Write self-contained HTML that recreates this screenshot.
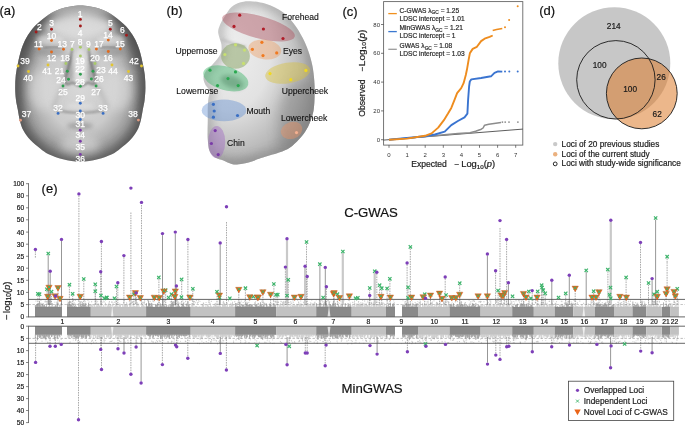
<!DOCTYPE html>
<html><head><meta charset="utf-8"><style>
html,body{margin:0;padding:0;background:#fff;}
svg{display:block;font-family:"Liberation Sans", sans-serif;will-change:transform;}
</style></head><body>
<svg width="685" height="426" viewBox="0 0 685 426">
<rect width="685" height="426" fill="#fff"/>
<g id="pa">
<text x="-0.6" y="15.2" font-size="13" fill="#111" stroke="#111" stroke-width="0.2">(a)</text>
<defs><radialGradient id="fg" cx="0.5" cy="0.52" r="0.55"><stop offset="0" stop-color="#d8d8d8"/><stop offset="0.5" stop-color="#cbcbcb"/><stop offset="0.8" stop-color="#9c9c9c"/><stop offset="1" stop-color="#585858"/></radialGradient><clipPath id="fclip"><path d="M80.30,5.60C83.50,5.60 86.12,5.88 89.90,6.60C93.68,7.32 98.90,8.27 103.00,9.90C107.10,11.53 110.67,13.67 114.50,16.40C118.33,19.13 122.72,22.73 126.00,26.30C129.28,29.87 132.00,33.97 134.20,37.80C136.40,41.63 137.82,45.20 139.20,49.30C140.58,53.40 141.57,58.12 142.50,62.40C143.43,66.68 144.32,70.73 144.80,75.00C145.28,79.27 145.43,83.83 145.40,88.00C145.37,92.17 145.02,96.48 144.60,100.00C144.18,103.52 143.53,105.70 142.90,109.10C142.27,112.50 141.73,116.88 140.80,120.40C139.87,123.92 139.07,126.92 137.30,130.20C135.53,133.48 133.02,137.05 130.20,140.10C127.38,143.15 123.45,146.15 120.40,148.50C117.35,150.85 115.70,152.42 111.90,154.20C108.10,155.98 102.87,157.97 97.60,159.20C92.33,160.43 86.07,161.60 80.30,161.60C74.53,161.60 68.27,160.43 63.00,159.20C57.73,157.97 52.50,155.98 48.70,154.20C44.90,152.42 43.25,150.85 40.20,148.50C37.15,146.15 33.22,143.15 30.40,140.10C27.58,137.05 25.07,133.48 23.30,130.20C21.53,126.92 20.73,123.92 19.80,120.40C18.87,116.88 18.33,112.50 17.70,109.10C17.07,105.70 16.42,103.52 16.00,100.00C15.58,96.48 15.23,92.17 15.20,88.00C15.17,83.83 15.32,79.27 15.80,75.00C16.28,70.73 17.17,66.68 18.10,62.40C19.03,58.12 20.02,53.40 21.40,49.30C22.78,45.20 24.20,41.63 26.40,37.80C28.60,33.97 31.32,29.87 34.60,26.30C37.88,22.73 42.27,19.13 46.10,16.40C49.93,13.67 53.50,11.53 57.60,9.90C61.70,8.27 66.92,7.32 70.70,6.60C74.48,5.88 77.10,5.60 80.30,5.60Z"/></clipPath><filter id="blur2" x="-50%" y="-50%" width="200%" height="200%"><feGaussianBlur stdDeviation="2.2"/></filter><filter id="blur1" x="-50%" y="-50%" width="200%" height="200%"><feGaussianBlur stdDeviation="1"/></filter><filter id="blur4" x="-50%" y="-50%" width="200%" height="200%"><feGaussianBlur stdDeviation="4"/></filter><filter id="blur6" x="-50%" y="-50%" width="200%" height="200%"><feGaussianBlur stdDeviation="6"/></filter></defs>
<path d="M80.30,5.60C83.50,5.60 86.12,5.88 89.90,6.60C93.68,7.32 98.90,8.27 103.00,9.90C107.10,11.53 110.67,13.67 114.50,16.40C118.33,19.13 122.72,22.73 126.00,26.30C129.28,29.87 132.00,33.97 134.20,37.80C136.40,41.63 137.82,45.20 139.20,49.30C140.58,53.40 141.57,58.12 142.50,62.40C143.43,66.68 144.32,70.73 144.80,75.00C145.28,79.27 145.43,83.83 145.40,88.00C145.37,92.17 145.02,96.48 144.60,100.00C144.18,103.52 143.53,105.70 142.90,109.10C142.27,112.50 141.73,116.88 140.80,120.40C139.87,123.92 139.07,126.92 137.30,130.20C135.53,133.48 133.02,137.05 130.20,140.10C127.38,143.15 123.45,146.15 120.40,148.50C117.35,150.85 115.70,152.42 111.90,154.20C108.10,155.98 102.87,157.97 97.60,159.20C92.33,160.43 86.07,161.60 80.30,161.60C74.53,161.60 68.27,160.43 63.00,159.20C57.73,157.97 52.50,155.98 48.70,154.20C44.90,152.42 43.25,150.85 40.20,148.50C37.15,146.15 33.22,143.15 30.40,140.10C27.58,137.05 25.07,133.48 23.30,130.20C21.53,126.92 20.73,123.92 19.80,120.40C18.87,116.88 18.33,112.50 17.70,109.10C17.07,105.70 16.42,103.52 16.00,100.00C15.58,96.48 15.23,92.17 15.20,88.00C15.17,83.83 15.32,79.27 15.80,75.00C16.28,70.73 17.17,66.68 18.10,62.40C19.03,58.12 20.02,53.40 21.40,49.30C22.78,45.20 24.20,41.63 26.40,37.80C28.60,33.97 31.32,29.87 34.60,26.30C37.88,22.73 42.27,19.13 46.10,16.40C49.93,13.67 53.50,11.53 57.60,9.90C61.70,8.27 66.92,7.32 70.70,6.60C74.48,5.88 77.10,5.60 80.30,5.60Z" fill="url(#fg)"/>
<g clip-path="url(#fclip)">
<path d="M80.30,5.60C83.50,5.60 86.12,5.88 89.90,6.60C93.68,7.32 98.90,8.27 103.00,9.90C107.10,11.53 110.67,13.67 114.50,16.40C118.33,19.13 122.72,22.73 126.00,26.30C129.28,29.87 132.00,33.97 134.20,37.80C136.40,41.63 137.82,45.20 139.20,49.30C140.58,53.40 141.57,58.12 142.50,62.40C143.43,66.68 144.32,70.73 144.80,75.00C145.28,79.27 145.43,83.83 145.40,88.00C145.37,92.17 145.02,96.48 144.60,100.00C144.18,103.52 143.53,105.70 142.90,109.10C142.27,112.50 141.73,116.88 140.80,120.40C139.87,123.92 139.07,126.92 137.30,130.20C135.53,133.48 133.02,137.05 130.20,140.10C127.38,143.15 123.45,146.15 120.40,148.50C117.35,150.85 115.70,152.42 111.90,154.20C108.10,155.98 102.87,157.97 97.60,159.20C92.33,160.43 86.07,161.60 80.30,161.60C74.53,161.60 68.27,160.43 63.00,159.20C57.73,157.97 52.50,155.98 48.70,154.20C44.90,152.42 43.25,150.85 40.20,148.50C37.15,146.15 33.22,143.15 30.40,140.10C27.58,137.05 25.07,133.48 23.30,130.20C21.53,126.92 20.73,123.92 19.80,120.40C18.87,116.88 18.33,112.50 17.70,109.10C17.07,105.70 16.42,103.52 16.00,100.00C15.58,96.48 15.23,92.17 15.20,88.00C15.17,83.83 15.32,79.27 15.80,75.00C16.28,70.73 17.17,66.68 18.10,62.40C19.03,58.12 20.02,53.40 21.40,49.30C22.78,45.20 24.20,41.63 26.40,37.80C28.60,33.97 31.32,29.87 34.60,26.30C37.88,22.73 42.27,19.13 46.10,16.40C49.93,13.67 53.50,11.53 57.60,9.90C61.70,8.27 66.92,7.32 70.70,6.60C74.48,5.88 77.10,5.60 80.30,5.60Z" fill="none" stroke="#3c3c3c" stroke-width="14" opacity="0.45" filter="url(#blur6)"/>
<ellipse cx="80" cy="8" rx="40" ry="10" fill="#d6d6d6" opacity="0.6" filter="url(#blur4)"/>
<ellipse cx="14" cy="90" rx="9" ry="35" fill="#505050" opacity="0.4" filter="url(#blur4)"/>
<ellipse cx="147" cy="90" rx="9" ry="35" fill="#505050" opacity="0.4" filter="url(#blur4)"/>
<ellipse cx="80" cy="27" rx="34" ry="13" fill="#e2e2e2" opacity="0.85" filter="url(#blur4)"/>
<ellipse cx="50" cy="40" rx="14" ry="5" fill="#e8e8e8" opacity="0.6" filter="url(#blur2)"/>
<ellipse cx="111" cy="40" rx="14" ry="5" fill="#e8e8e8" opacity="0.6" filter="url(#blur2)"/>
<ellipse cx="51" cy="52" rx="14" ry="5" fill="#7a7a7a" opacity="0.35" filter="url(#blur2)"/>
<ellipse cx="110" cy="52" rx="14" ry="5" fill="#7a7a7a" opacity="0.35" filter="url(#blur2)"/>
<ellipse cx="24" cy="45" rx="9" ry="22" fill="#4a4a4a" opacity="0.45" filter="url(#blur4)"/>
<ellipse cx="137" cy="45" rx="9" ry="22" fill="#4a4a4a" opacity="0.45" filter="url(#blur4)"/>
<ellipse cx="69" cy="70" rx="5" ry="15" fill="#7a7a7a" opacity="0.45" filter="url(#blur2)"/>
<ellipse cx="92" cy="70" rx="5" ry="15" fill="#7a7a7a" opacity="0.45" filter="url(#blur2)"/>
<ellipse cx="80.5" cy="66" rx="6" ry="18" fill="#e6e6e6" opacity="0.8" filter="url(#blur2)"/>
<path d="M72,50 C71,58 69,66 67.2,72 C66,76 64.6,80 65,83 C66.5,85.5 70,84 73,82.5 C75,84 77,86 80.3,86" stroke="#3a3a3a" stroke-width="1.3" fill="none" opacity="0.7" filter="url(#blur1)"/>
<path d="M88.6,50 C89.6,58 91.6,66 93.4,72 C94.6,76 96,80 95.6,83 C94.1,85.5 90.6,84 87.6,82.5 C85.6,84 83.6,86 80.3,86" stroke="#3a3a3a" stroke-width="1.3" fill="none" opacity="0.7" filter="url(#blur1)"/>
<path d="M44,48 Q52,45.5 61,48" stroke="#707070" stroke-width="1.4" fill="none" opacity="0.6" filter="url(#blur1)"/>
<path d="M99.6,48 Q108.6,45.5 116.6,48" stroke="#707070" stroke-width="1.4" fill="none" opacity="0.6" filter="url(#blur1)"/>
<path d="M64,86 Q56,96 53,108" stroke="#7a7a7a" stroke-width="3" fill="none" opacity="0.4" filter="url(#blur2)"/>
<path d="M96.6,86 Q104.6,96 107.6,108" stroke="#7a7a7a" stroke-width="3" fill="none" opacity="0.4" filter="url(#blur2)"/>
<ellipse cx="44" cy="90" rx="15" ry="20" fill="#dadada" opacity="0.6" filter="url(#blur4)"/>
<ellipse cx="117" cy="90" rx="15" ry="20" fill="#dadada" opacity="0.6" filter="url(#blur4)"/>
<path d="M56,110 Q80,116 105,110" stroke="#6a6a6a" stroke-width="2" fill="none" opacity="0.55" filter="url(#blur1)"/>
<ellipse cx="80" cy="106" rx="14" ry="3" fill="#e6e6e6" opacity="0.55" filter="url(#blur2)"/>
<ellipse cx="80" cy="126" rx="13" ry="3.5" fill="#7e7e7e" opacity="0.5" filter="url(#blur2)"/>
<ellipse cx="80" cy="145" rx="20" ry="9" fill="#dcdcdc" opacity="0.55" filter="url(#blur4)"/>
</g>
<circle cx="80.4" cy="19.4" r="1.45" fill="#a11c1c"/>
<circle cx="80.4" cy="26.0" r="1.45" fill="#a11c1c"/>
<circle cx="36.1" cy="32.0" r="1.45" fill="#a11c1c"/>
<circle cx="51.5" cy="29.3" r="1.45" fill="#a11c1c"/>
<circle cx="110.3" cy="29.3" r="1.45" fill="#a11c1c"/>
<circle cx="126.5" cy="35.3" r="1.45" fill="#a11c1c"/>
<circle cx="51.5" cy="40.5" r="1.45" fill="#e06a1e"/>
<circle cx="108.3" cy="40.1" r="1.45" fill="#e06a1e"/>
<circle cx="39.1" cy="49.0" r="1.45" fill="#e06a1e"/>
<circle cx="63.5" cy="49.3" r="1.45" fill="#e06a1e"/>
<circle cx="51.5" cy="52.0" r="1.45" fill="#e06a1e"/>
<circle cx="120.3" cy="49.0" r="1.45" fill="#e06a1e"/>
<circle cx="96.4" cy="49.0" r="1.45" fill="#e06a1e"/>
<circle cx="108.3" cy="51.5" r="1.45" fill="#e06a1e"/>
<circle cx="72.0" cy="49.5" r="1.45" fill="#a9c96a"/>
<circle cx="80.4" cy="47.3" r="1.45" fill="#a9c96a"/>
<circle cx="89.0" cy="49.5" r="1.45" fill="#a9c96a"/>
<circle cx="65.9" cy="63.5" r="1.45" fill="#a9c96a"/>
<circle cx="80.4" cy="56.0" r="1.45" fill="#a9c96a"/>
<circle cx="95.0" cy="63.5" r="1.45" fill="#a9c96a"/>
<circle cx="18.0" cy="66.0" r="1.45" fill="#e2c531"/>
<circle cx="28.5" cy="71.5" r="1.45" fill="#e2c531"/>
<circle cx="48.0" cy="65.0" r="1.45" fill="#e2c531"/>
<circle cx="141.5" cy="66.0" r="1.45" fill="#e2c531"/>
<circle cx="128.5" cy="71.5" r="1.45" fill="#e2c531"/>
<circle cx="112.0" cy="65.0" r="1.45" fill="#e2c531"/>
<circle cx="67.3" cy="71.3" r="1.45" fill="#2f9e4f"/>
<circle cx="80.4" cy="74.3" r="1.45" fill="#2f9e4f"/>
<circle cx="93.0" cy="71.3" r="1.45" fill="#2f9e4f"/>
<circle cx="68.5" cy="79.3" r="1.45" fill="#2f9e4f"/>
<circle cx="91.4" cy="79.0" r="1.45" fill="#2f9e4f"/>
<circle cx="80.3" cy="86.3" r="1.45" fill="#2f9e4f"/>
<circle cx="63.0" cy="86.0" r="1.45" fill="#2f9e4f"/>
<circle cx="96.1" cy="86.0" r="1.45" fill="#2f9e4f"/>
<circle cx="80.3" cy="103.3" r="1.45" fill="#3a6fc4"/>
<circle cx="80.3" cy="111.0" r="1.45" fill="#3a6fc4"/>
<circle cx="80.3" cy="119.5" r="1.45" fill="#3a6fc4"/>
<circle cx="58.1" cy="113.4" r="1.45" fill="#3a6fc4"/>
<circle cx="103.1" cy="113.4" r="1.45" fill="#3a6fc4"/>
<circle cx="80.3" cy="130.3" r="1.45" fill="#7a3aa8"/>
<circle cx="80.3" cy="141.3" r="1.45" fill="#7a3aa8"/>
<circle cx="80.3" cy="154.4" r="1.45" fill="#7a3aa8"/>
<circle cx="20.5" cy="120.2" r="1.45" fill="#e09a80"/>
<circle cx="138.4" cy="120.1" r="1.45" fill="#e09a80"/>
<text x="80.0" y="14.0" font-size="8.5" fill="#fff" stroke="#fff" stroke-width="0.25" text-anchor="middle" dominant-baseline="central">1</text>
<text x="80.0" y="32.5" font-size="8.5" fill="#fff" stroke="#fff" stroke-width="0.25" text-anchor="middle" dominant-baseline="central">4</text>
<text x="39.3" y="27.0" font-size="8.5" fill="#fff" stroke="#fff" stroke-width="0.25" text-anchor="middle" dominant-baseline="central">2</text>
<text x="51.5" y="23.0" font-size="8.5" fill="#fff" stroke="#fff" stroke-width="0.25" text-anchor="middle" dominant-baseline="central">3</text>
<text x="110.3" y="23.0" font-size="8.5" fill="#fff" stroke="#fff" stroke-width="0.25" text-anchor="middle" dominant-baseline="central">5</text>
<text x="122.3" y="30.0" font-size="8.5" fill="#fff" stroke="#fff" stroke-width="0.25" text-anchor="middle" dominant-baseline="central">6</text>
<text x="51.5" y="36.0" font-size="8.5" fill="#fff" stroke="#fff" stroke-width="0.25" text-anchor="middle" dominant-baseline="central">10</text>
<text x="108.0" y="35.3" font-size="8.5" fill="#fff" stroke="#fff" stroke-width="0.25" text-anchor="middle" dominant-baseline="central">14</text>
<text x="38.5" y="44.0" font-size="8.5" fill="#fff" stroke="#fff" stroke-width="0.25" text-anchor="middle" dominant-baseline="central">11</text>
<text x="62.3" y="44.0" font-size="8.5" fill="#fff" stroke="#fff" stroke-width="0.25" text-anchor="middle" dominant-baseline="central">13</text>
<text x="51.5" y="58.0" font-size="8.5" fill="#fff" stroke="#fff" stroke-width="0.25" text-anchor="middle" dominant-baseline="central">12</text>
<text x="120.0" y="43.5" font-size="8.5" fill="#fff" stroke="#fff" stroke-width="0.25" text-anchor="middle" dominant-baseline="central">15</text>
<text x="99.0" y="43.5" font-size="8.5" fill="#fff" stroke="#fff" stroke-width="0.25" text-anchor="middle" dominant-baseline="central">17</text>
<text x="108.0" y="57.5" font-size="8.5" fill="#fff" stroke="#fff" stroke-width="0.25" text-anchor="middle" dominant-baseline="central">16</text>
<text x="72.4" y="44.0" font-size="8.5" fill="#fff" stroke="#fff" stroke-width="0.25" text-anchor="middle" dominant-baseline="central">7</text>
<text x="80.0" y="42.0" font-size="8.5" fill="#fff" stroke="#fff" stroke-width="0.25" text-anchor="middle" dominant-baseline="central">8</text>
<text x="88.4" y="43.5" font-size="8.5" fill="#fff" stroke="#fff" stroke-width="0.25" text-anchor="middle" dominant-baseline="central">9</text>
<text x="64.9" y="58.0" font-size="8.5" fill="#fff" stroke="#fff" stroke-width="0.25" text-anchor="middle" dominant-baseline="central">18</text>
<text x="80.0" y="61.0" font-size="8.5" fill="#fff" stroke="#fff" stroke-width="0.25" text-anchor="middle" dominant-baseline="central">19</text>
<text x="95.0" y="58.0" font-size="8.5" fill="#fff" stroke="#fff" stroke-width="0.25" text-anchor="middle" dominant-baseline="central">20</text>
<text x="25.0" y="61.0" font-size="8.5" fill="#fff" stroke="#fff" stroke-width="0.25" text-anchor="middle" dominant-baseline="central">39</text>
<text x="28.0" y="78.0" font-size="8.5" fill="#fff" stroke="#fff" stroke-width="0.25" text-anchor="middle" dominant-baseline="central">40</text>
<text x="47.0" y="71.0" font-size="8.5" fill="#fff" stroke="#fff" stroke-width="0.25" text-anchor="middle" dominant-baseline="central">41</text>
<text x="133.9" y="61.0" font-size="8.5" fill="#fff" stroke="#fff" stroke-width="0.25" text-anchor="middle" dominant-baseline="central">42</text>
<text x="128.5" y="78.0" font-size="8.5" fill="#fff" stroke="#fff" stroke-width="0.25" text-anchor="middle" dominant-baseline="central">43</text>
<text x="113.0" y="71.0" font-size="8.5" fill="#fff" stroke="#fff" stroke-width="0.25" text-anchor="middle" dominant-baseline="central">44</text>
<text x="59.5" y="71.0" font-size="8.5" fill="#fff" stroke="#fff" stroke-width="0.25" text-anchor="middle" dominant-baseline="central">21</text>
<text x="80.0" y="69.0" font-size="8.5" fill="#fff" stroke="#fff" stroke-width="0.25" text-anchor="middle" dominant-baseline="central">22</text>
<text x="101.0" y="70.0" font-size="8.5" fill="#fff" stroke="#fff" stroke-width="0.25" text-anchor="middle" dominant-baseline="central">23</text>
<text x="61.0" y="79.5" font-size="8.5" fill="#fff" stroke="#fff" stroke-width="0.25" text-anchor="middle" dominant-baseline="central">24</text>
<text x="99.0" y="79.0" font-size="8.5" fill="#fff" stroke="#fff" stroke-width="0.25" text-anchor="middle" dominant-baseline="central">26</text>
<text x="80.0" y="82.0" font-size="8.5" fill="#fff" stroke="#fff" stroke-width="0.25" text-anchor="middle" dominant-baseline="central">28</text>
<text x="63.0" y="91.6" font-size="8.5" fill="#fff" stroke="#fff" stroke-width="0.25" text-anchor="middle" dominant-baseline="central">25</text>
<text x="96.1" y="91.6" font-size="8.5" fill="#fff" stroke="#fff" stroke-width="0.25" text-anchor="middle" dominant-baseline="central">27</text>
<text x="80.3" y="98.0" font-size="8.5" fill="#fff" stroke="#fff" stroke-width="0.25" text-anchor="middle" dominant-baseline="central">29</text>
<text x="80.3" y="115.0" font-size="8.5" fill="#fff" stroke="#fff" stroke-width="0.25" text-anchor="middle" dominant-baseline="central">30</text>
<text x="58.1" y="107.5" font-size="8.5" fill="#fff" stroke="#fff" stroke-width="0.25" text-anchor="middle" dominant-baseline="central">32</text>
<text x="103.1" y="107.5" font-size="8.5" fill="#fff" stroke="#fff" stroke-width="0.25" text-anchor="middle" dominant-baseline="central">33</text>
<text x="80.3" y="124.4" font-size="8.5" fill="#fff" stroke="#fff" stroke-width="0.25" text-anchor="middle" dominant-baseline="central">31</text>
<text x="80.3" y="135.4" font-size="8.5" fill="#fff" stroke="#fff" stroke-width="0.25" text-anchor="middle" dominant-baseline="central">34</text>
<text x="80.3" y="146.6" font-size="8.5" fill="#fff" stroke="#fff" stroke-width="0.25" text-anchor="middle" dominant-baseline="central">35</text>
<text x="80.3" y="159.3" font-size="8.5" fill="#fff" stroke="#fff" stroke-width="0.25" text-anchor="middle" dominant-baseline="central">36</text>
<text x="26.4" y="113.8" font-size="8.5" fill="#fff" stroke="#fff" stroke-width="0.25" text-anchor="middle" dominant-baseline="central">37</text>
<text x="133.1" y="113.8" font-size="8.5" fill="#fff" stroke="#fff" stroke-width="0.25" text-anchor="middle" dominant-baseline="central">38</text>
</g>
<g id="pb">
<text x="166.6" y="15.2" font-size="13" fill="#111" stroke="#111" stroke-width="0.2">(b)</text>
<defs><radialGradient id="sg" cx="0.25" cy="0.3" r="0.9"><stop offset="0" stop-color="#eeeeee"/><stop offset="0.4" stop-color="#e2e2e2"/><stop offset="0.72" stop-color="#b8b8b8"/><stop offset="1" stop-color="#7c7c7c"/></radialGradient><clipPath id="sclip"><path d="M250.00,1.30C254.40,1.55 260.92,2.27 266.40,4.10C271.88,5.93 278.23,8.88 282.90,12.30C287.57,15.72 291.12,20.35 294.40,24.60C297.68,28.85 300.28,33.40 302.60,37.80C304.92,42.20 306.67,46.35 308.30,51.00C309.93,55.65 311.40,60.75 312.40,65.70C313.40,70.65 313.93,75.82 314.30,80.70C314.67,85.58 314.72,90.13 314.60,95.00C314.48,99.87 314.32,105.50 313.60,109.90C312.88,114.30 311.67,117.83 310.30,121.40C308.93,124.97 307.32,128.28 305.40,131.30C303.48,134.32 301.42,136.77 298.80,139.50C296.18,142.23 293.00,145.53 289.70,147.70C286.40,149.87 283.78,150.77 279.00,152.50C274.22,154.23 265.95,156.48 261.00,158.10C256.05,159.72 253.02,161.17 249.30,162.20C245.58,163.23 241.63,164.00 238.70,164.30C235.77,164.60 234.23,164.63 231.70,164.00C229.17,163.37 226.25,161.58 223.50,160.50C220.75,159.42 217.53,159.08 215.20,157.50C212.87,155.92 210.73,153.92 209.50,151.00C208.27,148.08 208.12,143.22 207.80,140.00C207.48,136.78 207.60,135.03 207.60,131.70C207.60,128.37 207.77,123.95 207.80,120.00C207.83,116.05 207.68,111.67 207.80,108.00C207.92,104.33 208.13,100.83 208.50,98.00C208.87,95.17 210.50,93.17 210.00,91.00C209.50,88.83 206.58,87.17 205.50,85.00C204.42,82.83 203.42,80.33 203.50,78.00C203.58,75.67 204.42,73.33 206.00,71.00C207.58,68.67 210.58,66.83 213.00,64.00C215.42,61.17 219.08,57.17 220.50,54.00C221.92,50.83 221.72,47.83 221.50,45.00C221.28,42.17 219.75,39.33 219.20,37.00C218.65,34.67 218.00,33.17 218.20,31.00C218.40,28.83 219.22,26.58 220.40,24.00C221.58,21.42 223.43,18.33 225.30,15.50C227.17,12.67 229.15,9.15 231.60,7.00C234.05,4.85 236.93,3.55 240.00,2.60C243.07,1.65 245.60,1.05 250.00,1.30Z"/></clipPath></defs>
<path d="M250.00,1.30C254.40,1.55 260.92,2.27 266.40,4.10C271.88,5.93 278.23,8.88 282.90,12.30C287.57,15.72 291.12,20.35 294.40,24.60C297.68,28.85 300.28,33.40 302.60,37.80C304.92,42.20 306.67,46.35 308.30,51.00C309.93,55.65 311.40,60.75 312.40,65.70C313.40,70.65 313.93,75.82 314.30,80.70C314.67,85.58 314.72,90.13 314.60,95.00C314.48,99.87 314.32,105.50 313.60,109.90C312.88,114.30 311.67,117.83 310.30,121.40C308.93,124.97 307.32,128.28 305.40,131.30C303.48,134.32 301.42,136.77 298.80,139.50C296.18,142.23 293.00,145.53 289.70,147.70C286.40,149.87 283.78,150.77 279.00,152.50C274.22,154.23 265.95,156.48 261.00,158.10C256.05,159.72 253.02,161.17 249.30,162.20C245.58,163.23 241.63,164.00 238.70,164.30C235.77,164.60 234.23,164.63 231.70,164.00C229.17,163.37 226.25,161.58 223.50,160.50C220.75,159.42 217.53,159.08 215.20,157.50C212.87,155.92 210.73,153.92 209.50,151.00C208.27,148.08 208.12,143.22 207.80,140.00C207.48,136.78 207.60,135.03 207.60,131.70C207.60,128.37 207.77,123.95 207.80,120.00C207.83,116.05 207.68,111.67 207.80,108.00C207.92,104.33 208.13,100.83 208.50,98.00C208.87,95.17 210.50,93.17 210.00,91.00C209.50,88.83 206.58,87.17 205.50,85.00C204.42,82.83 203.42,80.33 203.50,78.00C203.58,75.67 204.42,73.33 206.00,71.00C207.58,68.67 210.58,66.83 213.00,64.00C215.42,61.17 219.08,57.17 220.50,54.00C221.92,50.83 221.72,47.83 221.50,45.00C221.28,42.17 219.75,39.33 219.20,37.00C218.65,34.67 218.00,33.17 218.20,31.00C218.40,28.83 219.22,26.58 220.40,24.00C221.58,21.42 223.43,18.33 225.30,15.50C227.17,12.67 229.15,9.15 231.60,7.00C234.05,4.85 236.93,3.55 240.00,2.60C243.07,1.65 245.60,1.05 250.00,1.30Z" fill="url(#sg)"/>
<g clip-path="url(#sclip)">
<path d="M250.00,1.30C254.40,1.55 260.92,2.27 266.40,4.10C271.88,5.93 278.23,8.88 282.90,12.30C287.57,15.72 291.12,20.35 294.40,24.60C297.68,28.85 300.28,33.40 302.60,37.80C304.92,42.20 306.67,46.35 308.30,51.00C309.93,55.65 311.40,60.75 312.40,65.70C313.40,70.65 313.93,75.82 314.30,80.70C314.67,85.58 314.72,90.13 314.60,95.00C314.48,99.87 314.32,105.50 313.60,109.90C312.88,114.30 311.67,117.83 310.30,121.40C308.93,124.97 307.32,128.28 305.40,131.30C303.48,134.32 301.42,136.77 298.80,139.50C296.18,142.23 293.00,145.53 289.70,147.70C286.40,149.87 283.78,150.77 279.00,152.50C274.22,154.23 265.95,156.48 261.00,158.10C256.05,159.72 253.02,161.17 249.30,162.20C245.58,163.23 241.63,164.00 238.70,164.30C235.77,164.60 234.23,164.63 231.70,164.00C229.17,163.37 226.25,161.58 223.50,160.50C220.75,159.42 217.53,159.08 215.20,157.50C212.87,155.92 210.73,153.92 209.50,151.00C208.27,148.08 208.12,143.22 207.80,140.00C207.48,136.78 207.60,135.03 207.60,131.70C207.60,128.37 207.77,123.95 207.80,120.00C207.83,116.05 207.68,111.67 207.80,108.00C207.92,104.33 208.13,100.83 208.50,98.00C208.87,95.17 210.50,93.17 210.00,91.00C209.50,88.83 206.58,87.17 205.50,85.00C204.42,82.83 203.42,80.33 203.50,78.00C203.58,75.67 204.42,73.33 206.00,71.00C207.58,68.67 210.58,66.83 213.00,64.00C215.42,61.17 219.08,57.17 220.50,54.00C221.92,50.83 221.72,47.83 221.50,45.00C221.28,42.17 219.75,39.33 219.20,37.00C218.65,34.67 218.00,33.17 218.20,31.00C218.40,28.83 219.22,26.58 220.40,24.00C221.58,21.42 223.43,18.33 225.30,15.50C227.17,12.67 229.15,9.15 231.60,7.00C234.05,4.85 236.93,3.55 240.00,2.60C243.07,1.65 245.60,1.05 250.00,1.30Z" fill="none" stroke="#8a8a8a" stroke-width="10" opacity="0.45" filter="url(#blur4)"/>
<ellipse cx="302" cy="125" rx="24" ry="45" fill="#808080" opacity="0.45" filter="url(#blur6)"/>
<ellipse cx="262" cy="165" rx="45" ry="9" fill="#8c8c8c" opacity="0.4" filter="url(#blur4)"/>
<path d="M221,39 Q232,44 246,47" stroke="#b8b8b8" stroke-width="3" fill="none" opacity="0.6" filter="url(#blur1)"/>
</g>
<ellipse cx="232" cy="82" rx="12" ry="6" transform="rotate(20 232 82)" fill="#3a3a3a" opacity="0.35" filter="url(#blur2)"/>
<ellipse cx="258.5" cy="27.0" rx="37.5" ry="11.2" transform="rotate(15.0 258.5 27.0)" fill="#a84050" fill-opacity="0.40"/>
<ellipse cx="264.8" cy="49.5" rx="16.5" ry="9.8" transform="rotate(8.0 264.8 49.5)" fill="#f08a3c" fill-opacity="0.33"/>
<ellipse cx="235.5" cy="56.0" rx="14.4" ry="12.7" transform="rotate(0.0 235.5 56.0)" fill="#7a9a50" fill-opacity="0.45"/>
<ellipse cx="287.7" cy="73.0" rx="22.7" ry="10.3" transform="rotate(-9.0 287.7 73.0)" fill="#d8c040" fill-opacity="0.45"/>
<ellipse cx="225.8" cy="78.4" rx="23.3" ry="11.8" transform="rotate(16.0 225.8 78.4)" fill="#30b060" fill-opacity="0.42"/>
<ellipse cx="224.0" cy="110.4" rx="22.3" ry="10.8" transform="rotate(0.0 224.0 110.4)" fill="#5a8ad0" fill-opacity="0.40"/>
<ellipse cx="291.6" cy="130.4" rx="11.0" ry="8.4" transform="rotate(-18.0 291.6 130.4)" fill="#f09060" fill-opacity="0.40"/>
<ellipse cx="216.7" cy="142.0" rx="8.5" ry="16.1" transform="rotate(0.0 216.7 142.0)" fill="#9a60c0" fill-opacity="0.40"/>
<circle cx="239.7" cy="15.2" r="1.6" fill="#b01c28"/>
<circle cx="234.0" cy="26.4" r="1.6" fill="#b01c28"/>
<circle cx="263.4" cy="29.0" r="1.6" fill="#b01c28"/>
<circle cx="283.0" cy="38.5" r="1.6" fill="#b01c28"/>
<circle cx="261.9" cy="42.3" r="1.6" fill="#f07a20"/>
<circle cx="252.4" cy="49.3" r="1.6" fill="#f07a20"/>
<circle cx="263.0" cy="55.6" r="1.6" fill="#f07a20"/>
<circle cx="276.7" cy="52.9" r="1.6" fill="#f07a20"/>
<circle cx="235.5" cy="44.8" r="1.6" fill="#c8e070"/>
<circle cx="244.5" cy="50.1" r="1.6" fill="#c8e070"/>
<circle cx="224.9" cy="54.5" r="1.6" fill="#c8e070"/>
<circle cx="243.5" cy="63.4" r="1.6" fill="#c8e070"/>
<circle cx="270.0" cy="73.6" r="1.6" fill="#f0d820"/>
<circle cx="305.9" cy="70.4" r="1.6" fill="#f0d820"/>
<circle cx="290.8" cy="79.7" r="1.6" fill="#f0d820"/>
<circle cx="210.0" cy="70.2" r="1.6" fill="#2aa850"/>
<circle cx="235.5" cy="71.9" r="1.6" fill="#2aa850"/>
<circle cx="228.0" cy="78.6" r="1.6" fill="#2aa850"/>
<circle cx="217.5" cy="85.6" r="1.6" fill="#2aa850"/>
<circle cx="238.2" cy="85.6" r="1.6" fill="#2aa850"/>
<circle cx="213.4" cy="104.3" r="1.6" fill="#3a6fc4"/>
<circle cx="214.2" cy="111.0" r="1.6" fill="#3a6fc4"/>
<circle cx="213.4" cy="117.2" r="1.6" fill="#3a6fc4"/>
<circle cx="237.5" cy="115.5" r="1.6" fill="#3a6fc4"/>
<circle cx="296.5" cy="132.6" r="1.6" fill="#f4b090"/>
<circle cx="215.2" cy="130.6" r="1.6" fill="#7a3aa8"/>
<circle cx="211.4" cy="143.5" r="1.6" fill="#7a3aa8"/>
<circle cx="218.2" cy="154.6" r="1.6" fill="#7a3aa8"/>
<text x="282.0" y="16.5" font-size="8.6" fill="#111" stroke="#111" stroke-width="0.12" text-anchor="start" dominant-baseline="central">Forehead</text>
<text x="283.0" y="50.7" font-size="8.6" fill="#111" stroke="#111" stroke-width="0.12" text-anchor="start" dominant-baseline="central">Eyes</text>
<text x="217.5" y="50.7" font-size="8.6" fill="#111" stroke="#111" stroke-width="0.12" text-anchor="end" dominant-baseline="central">Uppernose</text>
<text x="281.7" y="91.2" font-size="8.6" fill="#111" stroke="#111" stroke-width="0.12" text-anchor="start" dominant-baseline="central">Uppercheek</text>
<text x="218.4" y="91.2" font-size="8.6" fill="#111" stroke="#111" stroke-width="0.12" text-anchor="end" dominant-baseline="central">Lowernose</text>
<text x="246.4" y="111.0" font-size="8.6" fill="#111" stroke="#111" stroke-width="0.12" text-anchor="start" dominant-baseline="central">Mouth</text>
<text x="281.0" y="117.7" font-size="8.6" fill="#111" stroke="#111" stroke-width="0.12" text-anchor="start" dominant-baseline="central">Lowercheek</text>
<text x="227.0" y="142.8" font-size="8.6" fill="#111" stroke="#111" stroke-width="0.12" text-anchor="start" dominant-baseline="central">Chin</text>
</g>
<g id="pc">
<text x="342.4" y="15.6" font-size="13" fill="#111" stroke="#111" stroke-width="0.2">(c)</text>
<rect x="383.6" y="1.6" width="139.2" height="143.5" fill="none" stroke="#666" stroke-width="0.9"/>
<line x1="389.0" y1="145.1" x2="389.0" y2="147.8" stroke="#444" stroke-width="0.7"/>
<text x="389.0" y="155" font-size="6" fill="#333" text-anchor="middle" dominant-baseline="central">0</text>
<line x1="407.1" y1="145.1" x2="407.1" y2="147.8" stroke="#444" stroke-width="0.7"/>
<text x="407.1" y="155" font-size="6" fill="#333" text-anchor="middle" dominant-baseline="central">1</text>
<line x1="425.2" y1="145.1" x2="425.2" y2="147.8" stroke="#444" stroke-width="0.7"/>
<text x="425.2" y="155" font-size="6" fill="#333" text-anchor="middle" dominant-baseline="central">2</text>
<line x1="443.3" y1="145.1" x2="443.3" y2="147.8" stroke="#444" stroke-width="0.7"/>
<text x="443.3" y="155" font-size="6" fill="#333" text-anchor="middle" dominant-baseline="central">3</text>
<line x1="461.4" y1="145.1" x2="461.4" y2="147.8" stroke="#444" stroke-width="0.7"/>
<text x="461.4" y="155" font-size="6" fill="#333" text-anchor="middle" dominant-baseline="central">4</text>
<line x1="479.5" y1="145.1" x2="479.5" y2="147.8" stroke="#444" stroke-width="0.7"/>
<text x="479.5" y="155" font-size="6" fill="#333" text-anchor="middle" dominant-baseline="central">5</text>
<line x1="497.6" y1="145.1" x2="497.6" y2="147.8" stroke="#444" stroke-width="0.7"/>
<text x="497.6" y="155" font-size="6" fill="#333" text-anchor="middle" dominant-baseline="central">6</text>
<line x1="515.7" y1="145.1" x2="515.7" y2="147.8" stroke="#444" stroke-width="0.7"/>
<text x="515.7" y="155" font-size="6" fill="#333" text-anchor="middle" dominant-baseline="central">7</text>
<line x1="381" y1="139.7" x2="383.6" y2="139.7" stroke="#444" stroke-width="0.7"/>
<text x="380" y="139.7" font-size="6" fill="#333" text-anchor="end" dominant-baseline="central">0</text>
<line x1="381" y1="110.9" x2="383.6" y2="110.9" stroke="#444" stroke-width="0.7"/>
<text x="380" y="110.9" font-size="6" fill="#333" text-anchor="end" dominant-baseline="central">20</text>
<line x1="381" y1="82.1" x2="383.6" y2="82.1" stroke="#444" stroke-width="0.7"/>
<text x="380" y="82.1" font-size="6" fill="#333" text-anchor="end" dominant-baseline="central">40</text>
<line x1="381" y1="53.3" x2="383.6" y2="53.3" stroke="#444" stroke-width="0.7"/>
<text x="380" y="53.3" font-size="6" fill="#333" text-anchor="end" dominant-baseline="central">60</text>
<line x1="381" y1="24.5" x2="383.6" y2="24.5" stroke="#444" stroke-width="0.7"/>
<text x="380" y="24.5" font-size="6" fill="#333" text-anchor="end" dominant-baseline="central">80</text>
<g transform="translate(365,116.8) rotate(-90)"><text x="0" y="0" font-size="8.4" fill="#222" textLength="37.4" lengthAdjust="spacingAndGlyphs" stroke="#222" stroke-width="0.2">Observed</text><text x="45.6" y="0" font-size="8.4" fill="#222" stroke="#222" stroke-width="0.2">&#8722;</text><text x="50.6" y="0" font-size="8.4" fill="#222" textLength="36.7" lengthAdjust="spacingAndGlyphs" stroke="#222" stroke-width="0.2">Log<tspan font-size="5.6" dy="1.4">10</tspan><tspan dy="-1.4">(</tspan><tspan font-style="italic">p</tspan>)</text></g>
<text x="411.2" y="167.2" font-size="8.4" fill="#222" textLength="35.7" lengthAdjust="spacingAndGlyphs" stroke="#222" stroke-width="0.2">Expected</text><text x="454.6" y="167.2" font-size="8.4" fill="#222" stroke="#222" stroke-width="0.2">&#8722;</text><text x="461.2" y="167.2" font-size="8.4" fill="#222" textLength="34" lengthAdjust="spacingAndGlyphs" stroke="#222" stroke-width="0.2">Log<tspan font-size="5.6" dy="1.4">10</tspan><tspan dy="-1.4">(</tspan><tspan font-style="italic">p</tspan>)</text>
<line x1="383.6" y1="140.1" x2="522.8" y2="129.1" stroke="#333" stroke-width="0.8"/>
<polyline points="389.0,139.8 425.0,136.6 457.9,133.4 470.0,132.7 475.6,131.3 481.3,129.2 483.1,128.0 484.6,125.2 488.8,124.2 501.0,122.4" fill="none" stroke="#8c8c8c" stroke-width="1.5" stroke-linejoin="round"/>
<circle cx="502.4" cy="122.1" r="0.9" fill="#8c8c8c"/>
<circle cx="505.2" cy="122.1" r="0.9" fill="#8c8c8c"/>
<circle cx="509.0" cy="122.1" r="0.9" fill="#8c8c8c"/>
<circle cx="517.9" cy="122.1" r="0.9" fill="#8c8c8c"/>
<polyline points="389.0,139.8 425.0,136.2 434.9,134.5 444.7,131.7 451.3,125.1 457.9,121.0 464.5,117.4 467.4,113.6 468.1,99.7 469.1,86.5 469.8,81.5 471.3,79.4 481.1,78.0 491.0,76.3 494.5,72.8 498.0,71.4 502.3,71.6" fill="none" stroke="#3a74d0" stroke-width="1.9" stroke-linejoin="round"/>
<circle cx="505.0" cy="71.4" r="1" fill="#3a74d0"/>
<circle cx="509.3" cy="71.4" r="1" fill="#3a74d0"/>
<circle cx="517.7" cy="71.4" r="1" fill="#3a74d0"/>
<polyline points="389.0,139.8 407.0,138.6 425.0,135.8 431.6,133.4 438.2,127.6 443.9,120.2 448.0,113.6 451.3,107.9 454.6,99.7 457.1,93.1 461.2,88.2 463.6,83.2 465.8,75.0 467.0,69.3 468.7,59.4 469.9,53.1 472.7,48.9 476.9,46.8 481.1,41.1 484.6,38.7 489.6,36.9 492.7,35.5" fill="none" stroke="#ee8c1e" stroke-width="1.9" stroke-linejoin="round"/>
<polyline points="492.7,30.6 496.6,29.6 502.3,28.5" fill="none" stroke="#ee8c1e" stroke-width="1.5"/>
<circle cx="505.0" cy="27.3" r="1" fill="#ee8c1e"/>
<circle cx="509.1" cy="20.1" r="1" fill="#ee8c1e"/>
<circle cx="517.7" cy="6.3" r="1" fill="#ee8c1e"/>
<line x1="388.3" y1="13.6" x2="396.8" y2="13.6" stroke="#f0901e" stroke-width="1.3"/>
<line x1="388.3" y1="31.6" x2="396.8" y2="31.6" stroke="#3b78d0" stroke-width="1.3"/>
<line x1="388.3" y1="49.3" x2="396.8" y2="49.3" stroke="#9a9a9a" stroke-width="1.3"/>
<text x="399.6" y="12.9" font-size="6.6" fill="#2a2a2a" stroke="#2a2a2a" stroke-width="0.2">C-GWAS &#955;<tspan font-size="4.8" dy="1.5">GC</tspan><tspan dy="-1.5"> = </tspan>1.25</text>
<text x="399.6" y="21.1" font-size="6.6" fill="#2a2a2a" stroke="#2a2a2a" stroke-width="0.2">LDSC intercept = 1.01</text>
<text x="399.6" y="30.3" font-size="6.6" fill="#2a2a2a" stroke="#2a2a2a" stroke-width="0.2">MinGWAS &#955;<tspan font-size="4.8" dy="1.5">GC</tspan><tspan dy="-1.5"> = </tspan>1.21</text>
<text x="399.6" y="38.4" font-size="6.6" fill="#2a2a2a" stroke="#2a2a2a" stroke-width="0.2">LDSC intercept = 1</text>
<text x="399.6" y="48.0" font-size="6.6" fill="#2a2a2a" stroke="#2a2a2a" stroke-width="0.2">GWAS &#955;<tspan font-size="4.8" dy="1.5">GC</tspan><tspan dy="-1.5"> = </tspan>1.08</text>
<text x="399.6" y="55.9" font-size="6.6" fill="#2a2a2a" stroke="#2a2a2a" stroke-width="0.2">LDSC intercept = 1.03</text>
</g>
<g id="pd">
<text x="539.2" y="15.2" font-size="13" fill="#111" stroke="#111" stroke-width="0.2">(d)</text>
<circle cx="614.3" cy="63.3" r="56" fill="#c7c7c7"/>
<circle cx="641.8" cy="93.4" r="35.4" fill="#dd7f30" fill-opacity="0.56"/>
<circle cx="641.8" cy="93.4" r="35.4" fill="none" stroke="#1a1a1a" stroke-width="0.9"/>
<circle cx="615.9" cy="79.8" r="39.2" fill="none" stroke="#1a1a1a" stroke-width="0.9"/>
<text x="613.7" y="25.6" font-size="9" fill="#1a1a1a" text-anchor="middle" dominant-baseline="central" textLength="13.8" lengthAdjust="spacingAndGlyphs" stroke="#1a1a1a" stroke-width="0.2">214</text>
<text x="599.6" y="65.0" font-size="9" fill="#1a1a1a" text-anchor="middle" dominant-baseline="central" textLength="13.8" lengthAdjust="spacingAndGlyphs" stroke="#1a1a1a" stroke-width="0.2">100</text>
<text x="661.2" y="77.2" font-size="9" fill="#1a1a1a" text-anchor="middle" dominant-baseline="central" textLength="9.2" lengthAdjust="spacingAndGlyphs" stroke="#1a1a1a" stroke-width="0.2">26</text>
<text x="630.1" y="89.1" font-size="9" fill="#1a1a1a" text-anchor="middle" dominant-baseline="central" textLength="13.8" lengthAdjust="spacingAndGlyphs" stroke="#1a1a1a" stroke-width="0.2">100</text>
<text x="657.2" y="113.5" font-size="9" fill="#1a1a1a" text-anchor="middle" dominant-baseline="central" textLength="9.2" lengthAdjust="spacingAndGlyphs" stroke="#1a1a1a" stroke-width="0.2">62</text>
<circle cx="555.2" cy="144.1" r="2.2" fill="#c9c9c9"/>
<circle cx="555.2" cy="154.3" r="2.2" fill="#ebb17f"/>
<circle cx="555.2" cy="163.9" r="1.9" fill="none" stroke="#111" stroke-width="0.9"/>
<text x="561.6" y="144.1" font-size="8.25" fill="#222" dominant-baseline="central" stroke="#222" stroke-width="0.2">Loci of 20 previous studies</text>
<text x="561.6" y="154.3" font-size="8.25" fill="#222" dominant-baseline="central" stroke="#222" stroke-width="0.2">Loci of the current study</text>
<text x="561.6" y="163.9" font-size="8.25" fill="#222" dominant-baseline="central" stroke="#222" stroke-width="0.2">Loci with study-wide significance</text>
</g>
<rect x="35.0" y="307" width="55.8" height="9.9" fill="#8a8a8a"/>
<rect x="35.0" y="326.2" width="55.8" height="8.5" fill="#8a8a8a"/>
<path d="M35.35,307.3V305.18M36.05,307.3V305.05M36.75,307.3V303.97M37.45,307.3V303.88M38.15,307.3V304.71M38.85,307.3V303.12M39.55,307.3V301.98M40.25,307.3V305.47M40.95,307.3V302.81M41.65,307.3V306.30M42.35,307.3V304.12M43.05,307.3V303.04M43.75,307.3V305.61M44.45,307.3V304.83M45.15,307.3V306.22M45.85,307.3V306.57M46.55,307.3V305.19M47.25,307.3V306.98M47.95,307.3V306.70M48.65,307.3V306.34M49.35,307.3V303.63M50.05,307.3V306.70M50.75,307.3V306.37M51.45,307.3V306.58M52.15,307.3V303.04M52.85,307.3V306.81M53.55,307.3V306.56M54.25,307.3V306.76M54.95,307.3V305.84M55.65,307.3V304.45M56.35,307.3V306.39M57.05,307.3V301.62M57.75,307.3V303.28M58.45,307.3V307.18M59.15,307.3V306.98M59.85,307.3V304.69M60.55,307.3V307.24M61.25,307.3V303.02M61.95,307.3V304.31M62.65,307.3V305.25M63.35,307.3V304.45M64.05,307.3V304.55M64.75,307.3V303.98M65.45,307.3V306.01M66.15,307.3V304.78M66.85,307.3V305.98M67.55,307.3V303.72M68.25,307.3V301.86M68.95,307.3V304.91M69.65,307.3V301.27M70.35,307.3V304.68M71.05,307.3V304.65M71.75,307.3V303.30M72.45,307.3V306.29M73.15,307.3V303.66M73.85,307.3V306.85M74.55,307.3V305.87M75.25,307.3V303.72M75.95,307.3V307.25M76.65,307.3V306.32M77.35,307.3V307.26M78.05,307.3V307.22M78.75,307.3V304.70M79.45,307.3V306.75M80.15,307.3V301.16M80.85,307.3V304.48M81.55,307.3V305.96M82.25,307.3V303.19M82.95,307.3V304.85M83.65,307.3V303.49M84.35,307.3V304.72M85.05,307.3V304.77M85.75,307.3V302.91M86.45,307.3V306.28M87.15,307.3V307.12M87.85,307.3V305.53M88.55,307.3V302.78M89.25,307.3V306.92M89.95,307.3V304.53" stroke="#8a8a8a" stroke-width="0.7" fill="none"/>
<path d="M35.35,334.4V338.31M36.05,334.4V335.32M36.75,334.4V334.90M37.45,334.4V340.36M38.15,334.4V337.11M38.85,334.4V335.34M39.55,334.4V338.00M40.25,334.4V337.30M40.95,334.4V338.58M41.65,334.4V335.52M42.35,334.4V336.24M43.05,334.4V338.42M43.75,334.4V338.53M44.45,334.4V337.75M45.15,334.4V338.46M45.85,334.4V339.89M46.55,334.4V336.44M47.25,334.4V337.23M47.95,334.4V335.69M48.65,334.4V338.16M49.35,334.4V337.22M50.05,334.4V335.64M50.75,334.4V334.80M51.45,334.4V337.06M52.15,334.4V336.58M52.85,334.4V335.18M53.55,334.4V335.34M54.25,334.4V338.41M54.95,334.4V340.31M55.65,334.4V335.64M56.35,334.4V335.28M57.05,334.4V338.04M57.75,334.4V338.57M58.45,334.4V335.28M59.15,334.4V336.08M59.85,334.4V337.41M60.55,334.4V334.51M61.25,334.4V334.53M61.95,334.4V335.90M62.65,334.4V337.59M63.35,334.4V337.81M64.05,334.4V338.22M64.75,334.4V338.08M65.45,334.4V336.98M66.15,334.4V338.57M66.85,334.4V337.58M67.55,334.4V334.85M68.25,334.4V335.52M68.95,334.4V338.30M69.65,334.4V335.40M70.35,334.4V336.41M71.05,334.4V335.38M71.75,334.4V338.14M72.45,334.4V335.10M73.15,334.4V337.49M73.85,334.4V336.45M74.55,334.4V337.15M75.25,334.4V338.53M75.95,334.4V339.67M76.65,334.4V338.24M77.35,334.4V337.95M78.05,334.4V337.17M78.75,334.4V337.86M79.45,334.4V336.55M80.15,334.4V335.29M80.85,334.4V336.73M81.55,334.4V337.80M82.25,334.4V337.53M82.95,334.4V338.26M83.65,334.4V337.82M84.35,334.4V335.41M85.05,334.4V337.52M85.75,334.4V338.51M86.45,334.4V338.26M87.15,334.4V336.41M87.85,334.4V334.57M88.55,334.4V335.97M89.25,334.4V336.72M89.95,334.4V338.39" stroke="#8a8a8a" stroke-width="0.7" fill="none"/>
<path d="M87.96,300.08v0.80M70.65,301.47v1.36M82.17,302.68v0.79M66.97,300.44v1.08M89.09,301.45v0.96M73.56,300.01v1.08M50.02,301.31v0.71M61.59,300.82v0.77M78.48,299.87v0.77M54.83,301.78v0.69M48.98,300.43v1.08M64.54,300.31v0.78M82.50,301.76v1.37M85.37,300.81v0.88M84.52,300.23v0.82M81.44,301.15v1.31M35.99,300.44v1.21M63.22,302.23v1.05M40.92,299.92v1.10M45.30,300.45v1.36M38.46,302.84v1.02M63.75,301.18v1.14M45.11,301.25v1.27M63.60,299.85v1.40M70.12,301.09v1.14M49.41,302.72v1.27M85.03,302.62v1.23M75.32,300.03v0.91M70.64,301.80v0.81M71.81,301.62v1.08M74.13,302.24v1.48M49.32,301.08v0.65M49.00,302.70v1.10" stroke="#a8a8a8" stroke-width="0.6" fill="none"/>
<path d="M64.39,340.16v1.26M66.25,340.25v0.94M82.47,342.87v1.07M63.08,341.42v0.62M79.70,341.25v1.04M58.09,342.83v1.43M59.20,342.26v1.41M69.48,342.70v0.72M47.68,341.75v0.89M75.78,339.49v1.06M59.37,340.50v0.97M70.23,341.55v1.08M47.98,341.96v1.33M86.49,339.87v1.50M75.54,340.04v0.69M42.03,340.61v1.22M85.85,342.87v0.70M73.26,339.76v0.66M63.73,341.27v0.73M90.26,342.71v0.69M77.67,340.31v1.02M35.74,341.80v1.36M57.62,339.78v0.75M79.74,341.82v1.37M63.14,342.93v1.32M78.41,342.26v0.97M77.81,342.06v0.97M61.16,339.04v0.92M87.71,341.66v0.90M56.74,343.00v1.18M36.27,341.46v1.26M45.91,340.50v0.69M63.34,342.87v1.11" stroke="#a8a8a8" stroke-width="0.6" fill="none"/>
<rect x="90.8" y="307" width="55.3" height="9.9" fill="#c2c2c2"/>
<rect x="90.8" y="326.2" width="55.3" height="8.5" fill="#c2c2c2"/>
<path d="M91.15,307.3V304.79M91.85,307.3V304.15M92.55,307.3V305.61M93.25,307.3V307.19M93.95,307.3V304.99M94.65,307.3V305.18M95.35,307.3V307.28M96.05,307.3V305.98M96.75,307.3V300.47M97.45,307.3V305.58M98.15,307.3V303.16M98.85,307.3V303.84M99.55,307.3V305.68M100.25,307.3V305.74M100.95,307.3V305.07M101.65,307.3V302.81M102.35,307.3V307.03M103.05,307.3V306.11M103.75,307.3V305.03M104.45,307.3V306.56M105.15,307.3V307.23M105.85,307.3V304.87M106.55,307.3V307.11M107.25,307.3V306.05M107.95,307.3V304.23M108.65,307.3V303.88M109.35,307.3V305.82M110.05,307.3V304.71M110.75,307.3V304.22M111.45,307.3V307.08M112.15,307.3V305.16M112.85,307.3V304.07M113.55,307.3V307.13M114.25,307.3V306.43M114.95,307.3V306.08M115.65,307.3V303.27M116.35,307.3V303.92M117.05,307.3V303.18M117.75,307.3V306.08M118.45,307.3V306.76M119.15,307.3V303.73M119.85,307.3V303.48M120.55,307.3V305.15M121.25,307.3V307.17M121.95,307.3V307.13M122.65,307.3V304.81M123.35,307.3V306.58M124.05,307.3V304.12M124.75,307.3V304.61M125.45,307.3V304.43M126.15,307.3V304.64M126.85,307.3V303.44M127.55,307.3V304.42M128.25,307.3V306.93M128.95,307.3V306.86M129.65,307.3V302.98M130.35,307.3V304.74M131.05,307.3V301.55M131.75,307.3V306.68M132.45,307.3V306.66M133.15,307.3V304.16M133.85,307.3V305.57M134.55,307.3V306.18M135.25,307.3V306.67M135.95,307.3V306.00M136.65,307.3V302.86M137.35,307.3V302.19M138.05,307.3V306.89M138.75,307.3V303.55M139.45,307.3V306.49M140.15,307.3V307.30M140.85,307.3V307.12M141.55,307.3V305.57M142.25,307.3V303.62M142.95,307.3V303.28M143.65,307.3V305.26M144.35,307.3V306.31M145.05,307.3V305.63M145.75,307.3V307.06" stroke="#c2c2c2" stroke-width="0.7" fill="none"/>
<path d="M91.15,334.4V337.87M91.85,334.4V334.66M92.55,334.4V335.25M93.25,334.4V338.39M93.95,334.4V336.10M94.65,334.4V335.75M95.35,334.4V338.29M96.05,334.4V338.21M96.75,334.4V334.80M97.45,334.4V338.50M98.15,334.4V337.54M98.85,334.4V337.07M99.55,334.4V339.22M100.25,334.4V337.32M100.95,334.4V336.32M101.65,334.4V338.42M102.35,334.4V338.19M103.05,334.4V335.70M103.75,334.4V337.18M104.45,334.4V338.52M105.15,334.4V334.74M105.85,334.4V334.94M106.55,334.4V337.35M107.25,334.4V336.56M107.95,334.4V337.98M108.65,334.4V337.15M109.35,334.4V335.64M110.05,334.4V338.56M110.75,334.4V338.30M111.45,334.4V338.13M112.15,334.4V336.59M112.85,334.4V334.81M113.55,334.4V335.84M114.25,334.4V335.13M114.95,334.4V335.01M115.65,334.4V338.37M116.35,334.4V335.84M117.05,334.4V338.20M117.75,334.4V336.09M118.45,334.4V336.91M119.15,334.4V336.90M119.85,334.4V339.19M120.55,334.4V338.47M121.25,334.4V336.84M121.95,334.4V337.59M122.65,334.4V335.13M123.35,334.4V335.48M124.05,334.4V336.22M124.75,334.4V336.63M125.45,334.4V338.28M126.15,334.4V338.04M126.85,334.4V338.44M127.55,334.4V337.84M128.25,334.4V337.61M128.95,334.4V335.41M129.65,334.4V334.73M130.35,334.4V337.74M131.05,334.4V338.17M131.75,334.4V335.54M132.45,334.4V335.32M133.15,334.4V335.87M133.85,334.4V335.65M134.55,334.4V336.84M135.25,334.4V334.68M135.95,334.4V336.76M136.65,334.4V337.28M137.35,334.4V337.82M138.05,334.4V335.19M138.75,334.4V336.72M139.45,334.4V336.79M140.15,334.4V337.92M140.85,334.4V335.69M141.55,334.4V336.52M142.25,334.4V335.84M142.95,334.4V334.89M143.65,334.4V336.75M144.35,334.4V335.87M145.05,334.4V337.51M145.75,334.4V336.22" stroke="#c2c2c2" stroke-width="0.7" fill="none"/>
<path d="M144.27,302.46v1.19M103.93,301.61v1.01M102.23,301.77v0.86M109.46,301.06v1.20M109.02,302.82v1.11M95.90,300.25v0.68M113.05,302.48v1.13M97.66,301.10v0.67M126.59,302.25v1.34M91.65,301.08v1.23M124.46,299.86v0.90M111.68,301.43v1.31M133.19,302.69v1.09M130.25,302.96v1.06M143.05,301.81v0.78M129.35,300.85v1.44M144.64,300.23v1.41M105.42,302.71v1.49M136.40,300.72v1.41M101.06,301.55v0.67M142.75,301.91v0.88M123.53,302.37v0.61M112.17,301.62v0.76M109.17,301.85v0.63M123.99,301.30v0.97M132.37,301.35v1.50M114.80,301.61v1.41M140.81,300.83v0.65M123.84,302.21v0.87M115.52,301.41v0.96M104.02,300.78v0.96M144.25,301.93v1.38M132.09,301.61v1.41" stroke="#a8a8a8" stroke-width="0.6" fill="none"/>
<path d="M91.48,340.51v1.24M91.38,342.97v1.32M111.59,341.16v0.87M104.98,339.80v1.26M130.83,340.33v1.34M128.28,341.83v0.76M95.78,339.91v0.74M141.71,340.71v1.06M112.14,340.33v0.97M145.10,342.16v1.19M109.73,341.60v0.70M136.43,341.45v0.74M110.30,341.00v0.73M130.36,342.34v0.78M95.40,339.98v1.12M110.77,340.85v0.71M120.85,341.24v1.10M136.01,341.41v0.71M104.12,341.29v1.35M92.57,339.72v1.49M127.92,341.95v0.94M101.83,340.87v0.73M119.54,340.05v1.11M127.91,339.58v1.46M125.30,341.76v1.28M137.15,342.42v0.97M119.89,341.10v0.99M130.92,342.60v1.26M123.62,339.28v0.71M93.67,341.78v1.07M103.84,339.27v1.42M114.10,342.22v0.80M96.25,342.17v0.71" stroke="#a8a8a8" stroke-width="0.6" fill="none"/>
<rect x="146.1" y="307" width="44.6" height="9.9" fill="#8a8a8a"/>
<rect x="146.1" y="326.2" width="44.6" height="8.5" fill="#8a8a8a"/>
<path d="M146.45,307.3V303.08M147.15,307.3V306.26M147.85,307.3V305.94M148.55,307.3V300.60M149.25,307.3V302.93M149.95,307.3V303.25M150.65,307.3V306.13M151.35,307.3V302.83M152.05,307.3V303.49M152.75,307.3V306.31M153.45,307.3V306.97M154.15,307.3V307.13M154.85,307.3V306.76M155.55,307.3V303.99M156.25,307.3V305.03M156.95,307.3V304.64M157.65,307.3V302.90M158.35,307.3V307.22M159.05,307.3V303.92M159.75,307.3V306.57M160.45,307.3V303.39M161.15,307.3V306.00M161.85,307.3V305.20M162.55,307.3V304.03M163.25,307.3V304.55M163.95,307.3V304.04M164.65,307.3V305.75M165.35,307.3V306.61M166.05,307.3V305.48M166.75,307.3V305.12M167.45,307.3V307.28M168.15,307.3V306.51M168.85,307.3V305.14M169.55,307.3V306.93M170.25,307.3V305.35M170.95,307.3V303.82M171.65,307.3V304.52M172.35,307.3V302.21M173.05,307.3V301.02M173.75,307.3V304.23M174.45,307.3V306.95M175.15,307.3V307.14M175.85,307.3V304.29M176.55,307.3V306.59M177.25,307.3V306.21M177.95,307.3V301.35M178.65,307.3V303.58M179.35,307.3V305.96M180.05,307.3V306.69M180.75,307.3V306.87M181.45,307.3V306.32M182.15,307.3V303.59M182.85,307.3V304.52M183.55,307.3V302.51M184.25,307.3V306.49M184.95,307.3V306.11M185.65,307.3V307.27M186.35,307.3V303.48M187.05,307.3V307.20M187.75,307.3V301.51M188.45,307.3V305.26M189.15,307.3V304.33M189.85,307.3V306.44" stroke="#8a8a8a" stroke-width="0.7" fill="none"/>
<path d="M146.45,334.4V334.41M147.15,334.4V334.75M147.85,334.4V336.06M148.55,334.4V335.85M149.25,334.4V336.54M149.95,334.4V338.21M150.65,334.4V336.54M151.35,334.4V335.40M152.05,334.4V334.68M152.75,334.4V338.22M153.45,334.4V337.43M154.15,334.4V335.49M154.85,334.4V335.30M155.55,334.4V336.13M156.25,334.4V335.51M156.95,334.4V335.72M157.65,334.4V336.41M158.35,334.4V337.05M159.05,334.4V334.87M159.75,334.4V335.73M160.45,334.4V339.05M161.15,334.4V338.33M161.85,334.4V337.23M162.55,334.4V336.72M163.25,334.4V336.73M163.95,334.4V335.23M164.65,334.4V337.73M165.35,334.4V336.61M166.05,334.4V334.61M166.75,334.4V338.12M167.45,334.4V336.63M168.15,334.4V337.83M168.85,334.4V336.83M169.55,334.4V338.69M170.25,334.4V335.67M170.95,334.4V335.26M171.65,334.4V337.96M172.35,334.4V335.46M173.05,334.4V338.55M173.75,334.4V334.63M174.45,334.4V336.21M175.15,334.4V334.60M175.85,334.4V335.52M176.55,334.4V336.49M177.25,334.4V338.53M177.95,334.4V334.73M178.65,334.4V337.01M179.35,334.4V338.00M180.05,334.4V336.02M180.75,334.4V335.40M181.45,334.4V336.44M182.15,334.4V335.41M182.85,334.4V336.09M183.55,334.4V336.21M184.25,334.4V336.08M184.95,334.4V337.70M185.65,334.4V335.92M186.35,334.4V335.93M187.05,334.4V336.22M187.75,334.4V334.59M188.45,334.4V335.10M189.15,334.4V337.31M189.85,334.4V337.50" stroke="#8a8a8a" stroke-width="0.7" fill="none"/>
<path d="M163.34,302.57v0.80M147.91,299.88v1.17M159.39,301.95v1.43M188.70,302.58v0.81M163.60,299.99v0.95M153.17,301.09v1.03M150.25,300.89v0.98M170.77,302.04v0.62M164.13,299.97v1.05M157.40,299.88v0.91M175.90,300.40v1.02M171.80,302.82v1.29M164.63,300.68v1.35M147.80,300.23v1.06M152.78,300.42v0.81M170.35,301.06v0.82M173.95,301.59v1.35M185.63,300.80v1.24M182.87,300.31v1.16M158.84,302.20v1.08M154.03,301.44v0.71M177.53,300.16v1.01M184.74,302.58v0.65M163.60,302.09v0.83M179.96,302.50v1.35M173.89,302.46v1.32" stroke="#a8a8a8" stroke-width="0.6" fill="none"/>
<path d="M159.13,340.38v0.79M171.34,342.24v1.48M155.74,341.76v1.20M174.31,339.36v0.98M160.74,340.99v0.85M153.54,341.66v0.82M152.83,341.33v1.23M163.56,340.46v0.66M172.23,340.88v0.89M185.87,341.26v0.84M173.54,342.82v0.93M174.08,341.48v0.97M185.34,340.53v1.42M159.86,340.44v1.48M176.44,339.94v0.60M168.12,341.60v1.09M189.31,340.33v0.91M177.11,341.75v1.47M167.98,341.26v0.93M156.67,340.00v0.89M148.92,339.27v0.69M180.54,340.92v0.75M157.42,341.03v1.32M178.02,340.31v0.90M171.41,340.68v1.24M151.68,340.51v1.20" stroke="#a8a8a8" stroke-width="0.6" fill="none"/>
<rect x="190.7" y="307" width="44.4" height="9.9" fill="#c2c2c2"/>
<rect x="190.7" y="326.2" width="44.4" height="8.5" fill="#c2c2c2"/>
<path d="M191.05,307.3V306.80M191.75,307.3V302.97M192.45,307.3V304.82M193.15,307.3V307.21M193.85,307.3V301.11M194.55,307.3V307.26M195.25,307.3V306.32M195.95,307.3V305.97M196.65,307.3V305.98M197.35,307.3V306.93M198.05,307.3V306.55M198.75,307.3V307.27M199.45,307.3V306.46M200.15,307.3V306.52M200.85,307.3V307.14M201.55,307.3V306.74M202.25,307.3V303.89M202.95,307.3V304.87M203.65,307.3V302.83M204.35,307.3V306.83M205.05,307.3V307.15M205.75,307.3V305.40M206.45,307.3V307.29M207.15,307.3V304.28M207.85,307.3V304.11M208.55,307.3V305.92M209.25,307.3V307.27M209.95,307.3V306.07M210.65,307.3V304.79M211.35,307.3V306.27M212.05,307.3V306.70M212.75,307.3V306.83M213.45,307.3V305.79M214.15,307.3V306.27M214.85,307.3V303.49M215.55,307.3V302.87M216.25,307.3V305.90M216.95,307.3V304.59M217.65,307.3V306.12M218.35,307.3V306.03M219.05,307.3V303.45M219.75,307.3V305.14M220.45,307.3V305.69M221.15,307.3V306.63M221.85,307.3V307.25M222.55,307.3V305.01M223.25,307.3V302.84M223.95,307.3V302.86M224.65,307.3V302.86M225.35,307.3V304.73M226.05,307.3V305.42M226.75,307.3V306.56M227.45,307.3V303.57M228.15,307.3V307.15M228.85,307.3V306.59M229.55,307.3V305.23M230.25,307.3V306.08M230.95,307.3V303.75M231.65,307.3V303.66M232.35,307.3V302.87M233.05,307.3V304.32M233.75,307.3V307.28M234.45,307.3V306.45" stroke="#c2c2c2" stroke-width="0.7" fill="none"/>
<path d="M191.05,334.4V334.49M191.75,334.4V335.09M192.45,334.4V336.23M193.15,334.4V337.50M193.85,334.4V338.58M194.55,334.4V336.82M195.25,334.4V337.84M195.95,334.4V337.12M196.65,334.4V337.42M197.35,334.4V335.28M198.05,334.4V336.60M198.75,334.4V336.92M199.45,334.4V335.51M200.15,334.4V340.13M200.85,334.4V335.31M201.55,334.4V338.09M202.25,334.4V339.28M202.95,334.4V335.72M203.65,334.4V336.42M204.35,334.4V334.56M205.05,334.4V336.07M205.75,334.4V334.47M206.45,334.4V336.76M207.15,334.4V336.24M207.85,334.4V338.55M208.55,334.4V337.47M209.25,334.4V336.96M209.95,334.4V337.28M210.65,334.4V336.05M211.35,334.4V334.90M212.05,334.4V337.62M212.75,334.4V334.96M213.45,334.4V334.46M214.15,334.4V336.80M214.85,334.4V335.91M215.55,334.4V336.37M216.25,334.4V337.47M216.95,334.4V338.40M217.65,334.4V338.56M218.35,334.4V337.23M219.05,334.4V338.05M219.75,334.4V335.00M220.45,334.4V337.31M221.15,334.4V337.05M221.85,334.4V337.16M222.55,334.4V338.34M223.25,334.4V337.60M223.95,334.4V336.25M224.65,334.4V336.61M225.35,334.4V338.36M226.05,334.4V340.08M226.75,334.4V337.86M227.45,334.4V335.37M228.15,334.4V336.87M228.85,334.4V337.84M229.55,334.4V338.24M230.25,334.4V338.76M230.95,334.4V335.01M231.65,334.4V337.12M232.35,334.4V335.42M233.05,334.4V335.37M233.75,334.4V335.99M234.45,334.4V337.06" stroke="#c2c2c2" stroke-width="0.7" fill="none"/>
<path d="M198.72,300.21v1.22M232.48,301.75v0.92M223.39,300.95v0.88M209.56,302.42v0.97M206.08,302.05v0.81M203.42,302.53v1.21M223.70,301.72v1.00M210.28,302.85v0.86M208.97,300.22v1.41M227.13,302.52v1.13M194.62,300.96v0.94M230.57,302.84v0.62M211.34,300.81v1.20M234.77,301.06v1.35M193.65,301.28v0.96M200.00,300.98v0.73M198.11,301.88v1.16M223.15,302.28v0.71M232.64,302.67v0.62M195.64,302.33v0.87M196.46,300.08v1.06M209.08,299.97v0.80M228.47,300.13v1.37M208.75,301.76v1.38M197.53,302.42v1.26M191.97,300.15v0.87" stroke="#a8a8a8" stroke-width="0.6" fill="none"/>
<path d="M211.41,339.52v0.70M199.41,342.98v1.22M208.83,339.59v1.17M210.98,341.03v1.45M216.42,340.14v1.39M210.90,342.73v0.95M193.55,340.68v0.85M221.55,341.69v0.82M201.87,340.68v0.91M214.94,339.40v1.41M222.80,341.68v0.91M218.81,340.88v0.93M217.59,342.88v1.48M219.56,341.80v1.50M219.83,339.87v1.49M208.22,341.97v0.68M223.65,340.01v1.33M211.51,339.06v1.37M206.29,341.14v1.08M213.22,339.50v1.11M203.75,342.11v0.82M210.76,341.23v1.01M197.58,342.88v1.07M233.49,340.65v0.61M222.34,339.63v1.08M233.60,341.57v1.36" stroke="#a8a8a8" stroke-width="0.6" fill="none"/>
<rect x="235.1" y="307" width="41.0" height="9.9" fill="#8a8a8a"/>
<rect x="235.1" y="326.2" width="41.0" height="8.5" fill="#8a8a8a"/>
<path d="M235.45,307.3V303.06M236.15,307.3V306.24M236.85,307.3V303.11M237.55,307.3V305.96M238.25,307.3V306.07M238.95,307.3V305.80M239.65,307.3V301.66M240.35,307.3V306.06M241.05,307.3V304.21M241.75,307.3V307.29M242.45,307.3V304.99M243.15,307.3V305.04M243.85,307.3V304.18M244.55,307.3V306.48M245.25,307.3V305.92M245.95,307.3V302.89M246.65,307.3V303.83M247.35,307.3V303.16M248.05,307.3V304.79M248.75,307.3V305.08M249.45,307.3V304.58M250.15,307.3V304.03M250.85,307.3V305.72M251.55,307.3V304.29M252.25,307.3V304.65M252.95,307.3V306.32M253.65,307.3V306.70M254.35,307.3V307.00M255.05,307.3V302.17M255.75,307.3V304.52M256.45,307.3V304.25M257.15,307.3V306.17M257.85,307.3V305.38M258.55,307.3V306.12M259.25,307.3V306.24M259.95,307.3V304.31M260.65,307.3V302.17M261.35,307.3V305.18M262.05,307.3V305.53M262.75,307.3V306.33M263.45,307.3V305.22M264.15,307.3V304.12M264.85,307.3V306.68M265.55,307.3V307.01M266.25,307.3V303.24M266.95,307.3V304.37M267.65,307.3V306.50M268.35,307.3V306.39M269.05,307.3V306.47M269.75,307.3V303.52M270.45,307.3V304.94M271.15,307.3V304.68M271.85,307.3V307.20M272.55,307.3V306.62M273.25,307.3V303.13M273.95,307.3V306.63M274.65,307.3V304.69M275.35,307.3V305.16" stroke="#8a8a8a" stroke-width="0.7" fill="none"/>
<path d="M235.45,334.4V335.65M236.15,334.4V336.61M236.85,334.4V336.92M237.55,334.4V335.82M238.25,334.4V336.36M238.95,334.4V339.99M239.65,334.4V336.24M240.35,334.4V335.88M241.05,334.4V338.92M241.75,334.4V337.03M242.45,334.4V336.11M243.15,334.4V335.89M243.85,334.4V334.70M244.55,334.4V337.82M245.25,334.4V335.76M245.95,334.4V337.96M246.65,334.4V337.79M247.35,334.4V337.15M248.05,334.4V334.54M248.75,334.4V334.44M249.45,334.4V338.54M250.15,334.4V336.41M250.85,334.4V336.39M251.55,334.4V334.79M252.25,334.4V336.84M252.95,334.4V338.43M253.65,334.4V336.30M254.35,334.4V338.12M255.05,334.4V337.35M255.75,334.4V336.19M256.45,334.4V335.24M257.15,334.4V335.22M257.85,334.4V336.19M258.55,334.4V336.99M259.25,334.4V337.44M259.95,334.4V336.95M260.65,334.4V337.51M261.35,334.4V338.51M262.05,334.4V335.52M262.75,334.4V339.65M263.45,334.4V335.96M264.15,334.4V337.86M264.85,334.4V335.38M265.55,334.4V337.70M266.25,334.4V337.40M266.95,334.4V335.78M267.65,334.4V339.24M268.35,334.4V335.62M269.05,334.4V335.76M269.75,334.4V335.21M270.45,334.4V336.83M271.15,334.4V338.29M271.85,334.4V338.36M272.55,334.4V336.46M273.25,334.4V336.67M273.95,334.4V338.41M274.65,334.4V334.79M275.35,334.4V335.02" stroke="#8a8a8a" stroke-width="0.7" fill="none"/>
<path d="M247.78,302.59v0.66M258.51,302.94v1.22M238.26,301.49v0.77M243.20,302.06v0.98M257.96,302.91v1.11M263.89,302.80v1.48M273.43,299.86v1.04M260.24,302.79v0.68M239.68,302.58v1.46M263.33,301.46v1.12M237.88,302.34v1.48M249.32,299.85v1.29M248.85,301.96v1.01M241.25,300.61v1.03M261.93,300.63v1.07M244.62,300.76v0.90M257.24,300.05v1.29M275.68,300.99v0.92M240.66,302.33v1.30M246.87,301.70v1.27M255.56,301.02v0.66M271.10,302.87v1.44M264.40,302.83v0.77M264.89,302.84v1.01" stroke="#a8a8a8" stroke-width="0.6" fill="none"/>
<path d="M262.42,339.27v0.63M270.17,342.14v1.07M256.69,340.42v1.05M255.02,339.31v1.04M240.63,340.20v0.90M274.05,342.70v1.37M259.32,341.74v1.15M256.39,342.84v0.63M236.09,339.13v1.35M266.15,342.23v0.60M269.27,340.63v0.90M245.85,341.34v1.07M244.71,342.53v0.76M267.23,340.33v0.81M245.55,342.51v0.77M264.88,341.70v1.31M245.12,339.87v0.97M272.45,342.96v0.95M248.96,342.16v0.94M254.61,342.27v0.61M272.60,339.57v0.79M249.12,342.72v0.73M240.66,341.71v1.39M250.36,339.48v0.85" stroke="#a8a8a8" stroke-width="0.6" fill="none"/>
<rect x="276.1" y="307" width="40.1" height="9.9" fill="#c2c2c2"/>
<rect x="276.1" y="326.2" width="40.1" height="8.5" fill="#c2c2c2"/>
<path d="M276.45,307.3V307.15M277.15,307.3V302.75M277.85,307.3V305.14M278.55,307.3V307.13M279.25,307.3V304.15M279.95,307.3V306.23M280.65,307.3V302.96M281.35,307.3V305.64M282.05,307.3V307.26M282.75,307.3V302.78M283.45,307.3V300.90M284.15,307.3V306.81M284.85,307.3V301.44M285.55,307.3V306.29M286.25,307.3V305.86M286.95,307.3V303.30M287.65,307.3V303.48M288.35,307.3V306.41M289.05,307.3V305.07M289.75,307.3V307.08M290.45,307.3V305.49M291.15,307.3V307.30M291.85,307.3V304.82M292.55,307.3V305.56M293.25,307.3V305.74M293.95,307.3V303.77M294.65,307.3V305.45M295.35,307.3V305.52M296.05,307.3V305.46M296.75,307.3V303.75M297.45,307.3V304.55M298.15,307.3V303.93M298.85,307.3V306.58M299.55,307.3V303.98M300.25,307.3V304.76M300.95,307.3V302.90M301.65,307.3V304.50M302.35,307.3V307.00M303.05,307.3V304.01M303.75,307.3V304.79M304.45,307.3V307.27M305.15,307.3V304.71M305.85,307.3V306.29M306.55,307.3V304.54M307.25,307.3V303.31M307.95,307.3V303.02M308.65,307.3V305.36M309.35,307.3V305.60M310.05,307.3V305.08M310.75,307.3V302.23M311.45,307.3V305.87M312.15,307.3V303.04M312.85,307.3V304.14M313.55,307.3V303.36M314.25,307.3V305.34M314.95,307.3V301.65M315.65,307.3V306.28" stroke="#c2c2c2" stroke-width="0.7" fill="none"/>
<path d="M276.45,334.4V335.32M277.15,334.4V335.04M277.85,334.4V337.69M278.55,334.4V335.49M279.25,334.4V338.31M279.95,334.4V336.93M280.65,334.4V336.49M281.35,334.4V335.35M282.05,334.4V337.69M282.75,334.4V337.59M283.45,334.4V336.65M284.15,334.4V334.50M284.85,334.4V336.11M285.55,334.4V336.06M286.25,334.4V336.81M286.95,334.4V335.53M287.65,334.4V335.22M288.35,334.4V335.26M289.05,334.4V335.20M289.75,334.4V337.40M290.45,334.4V338.31M291.15,334.4V336.64M291.85,334.4V336.50M292.55,334.4V337.22M293.25,334.4V334.85M293.95,334.4V337.83M294.65,334.4V336.35M295.35,334.4V336.58M296.05,334.4V336.00M296.75,334.4V337.85M297.45,334.4V337.83M298.15,334.4V335.28M298.85,334.4V339.18M299.55,334.4V337.09M300.25,334.4V334.76M300.95,334.4V338.11M301.65,334.4V337.67M302.35,334.4V340.07M303.05,334.4V338.12M303.75,334.4V336.62M304.45,334.4V335.21M305.15,334.4V337.74M305.85,334.4V335.71M306.55,334.4V338.38M307.25,334.4V335.78M307.95,334.4V337.74M308.65,334.4V340.06M309.35,334.4V337.62M310.05,334.4V335.57M310.75,334.4V336.76M311.45,334.4V336.27M312.15,334.4V335.03M312.85,334.4V336.87M313.55,334.4V335.61M314.25,334.4V335.34M314.95,334.4V335.70M315.65,334.4V337.71" stroke="#c2c2c2" stroke-width="0.7" fill="none"/>
<path d="M304.41,301.26v0.99M311.73,299.98v0.66M281.23,301.16v1.12M303.42,301.77v0.64M295.09,299.85v0.67M314.34,302.53v1.04M280.91,300.77v0.80M292.09,302.64v0.83M290.77,301.20v1.01M288.28,302.27v1.01M291.18,302.67v1.48M305.81,300.75v1.25M293.55,301.89v0.80M289.80,302.08v0.62M300.70,300.51v0.96M278.50,301.67v1.34M304.66,302.24v1.27M298.61,301.54v1.49M305.24,302.84v0.85M282.80,301.80v1.40M292.94,300.26v1.15M298.93,302.85v0.92M303.85,302.01v1.35M297.65,299.88v0.94" stroke="#a8a8a8" stroke-width="0.6" fill="none"/>
<path d="M280.37,340.90v1.46M286.90,341.78v0.99M305.94,340.61v1.18M304.59,339.51v0.65M291.78,340.87v0.70M299.67,340.26v1.49M310.81,341.04v0.97M307.83,341.83v1.00M288.75,341.50v0.97M295.09,342.52v1.01M307.61,340.61v1.20M314.19,341.62v1.20M306.99,341.16v1.48M292.79,342.07v0.83M315.95,339.79v1.42M309.68,340.57v1.13M299.31,340.01v1.23M281.57,342.12v0.89M298.84,341.11v1.05M302.70,340.16v1.33M294.56,341.12v1.49M306.53,339.30v0.87M291.34,340.09v0.92M302.46,339.59v0.88" stroke="#a8a8a8" stroke-width="0.6" fill="none"/>
<rect x="316.2" y="307" width="35.5" height="9.9" fill="#8a8a8a"/>
<rect x="316.2" y="326.2" width="35.5" height="8.5" fill="#8a8a8a"/>
<path d="M316.55,307.3V303.18M317.25,307.3V307.12M317.95,307.3V305.52M318.65,307.3V306.70M319.35,307.3V303.50M320.05,307.3V305.74M320.75,307.3V302.88M321.45,307.3V306.92M322.15,307.3V305.79M322.85,307.3V306.85M323.55,307.3V303.47M324.25,307.3V306.64M324.95,307.3V301.67M325.65,307.3V300.35M326.35,307.3V303.24M327.05,307.3V304.64M327.75,307.3V306.40M328.45,307.3V306.56M329.15,307.3V301.52M329.85,307.3V305.62M330.55,307.3V304.18M331.25,307.3V305.47M331.95,307.3V305.62M332.65,307.3V303.42M333.35,307.3V301.44M334.05,307.3V303.73M334.75,307.3V305.69M335.45,307.3V302.85M336.15,307.3V306.57M336.85,307.3V306.32M337.55,307.3V307.14M338.25,307.3V304.78M338.95,307.3V305.77M339.65,307.3V306.84M340.35,307.3V306.68M341.05,307.3V305.09M341.75,307.3V306.69M342.45,307.3V303.05M343.15,307.3V306.51M343.85,307.3V307.19M344.55,307.3V306.74M345.25,307.3V303.04M345.95,307.3V306.80M346.65,307.3V307.22M347.35,307.3V306.55M348.05,307.3V302.98M348.75,307.3V304.60M349.45,307.3V306.40M350.15,307.3V304.63M350.85,307.3V305.50" stroke="#8a8a8a" stroke-width="0.7" fill="none"/>
<path d="M316.55,334.4V335.60M317.25,334.4V337.81M317.95,334.4V339.95M318.65,334.4V337.46M319.35,334.4V335.47M320.05,334.4V337.88M320.75,334.4V335.49M321.45,334.4V338.46M322.15,334.4V337.94M322.85,334.4V336.05M323.55,334.4V338.11M324.25,334.4V339.64M324.95,334.4V336.99M325.65,334.4V337.05M326.35,334.4V337.43M327.05,334.4V337.43M327.75,334.4V336.90M328.45,334.4V335.79M329.15,334.4V335.69M329.85,334.4V336.70M330.55,334.4V337.14M331.25,334.4V336.30M331.95,334.4V336.77M332.65,334.4V338.65M333.35,334.4V335.76M334.05,334.4V337.38M334.75,334.4V336.23M335.45,334.4V338.28M336.15,334.4V338.49M336.85,334.4V338.07M337.55,334.4V338.27M338.25,334.4V334.98M338.95,334.4V337.69M339.65,334.4V336.50M340.35,334.4V336.43M341.05,334.4V338.45M341.75,334.4V334.80M342.45,334.4V336.89M343.15,334.4V337.89M343.85,334.4V334.60M344.55,334.4V334.58M345.25,334.4V335.91M345.95,334.4V337.19M346.65,334.4V336.91M347.35,334.4V337.51M348.05,334.4V335.56M348.75,334.4V334.76M349.45,334.4V338.01M350.15,334.4V337.16M350.85,334.4V334.73" stroke="#8a8a8a" stroke-width="0.7" fill="none"/>
<path d="M329.83,301.50v0.64M327.92,300.27v1.13M333.94,302.25v1.11M318.97,302.57v0.63M338.20,302.19v1.28M321.44,300.32v0.63M319.27,299.95v1.36M320.20,300.72v0.77M322.17,300.34v1.08M334.23,301.04v1.03M328.12,299.83v1.40M349.57,300.22v0.95M348.44,299.93v0.86M341.03,302.76v0.77M320.20,302.94v1.27M350.24,302.67v1.12M339.48,302.87v0.73M343.92,300.00v1.17M323.00,301.23v1.37M340.83,300.41v1.36M316.24,299.80v0.60" stroke="#a8a8a8" stroke-width="0.6" fill="none"/>
<path d="M317.19,342.93v0.93M348.67,339.72v1.05M324.68,339.76v1.25M322.93,340.87v1.36M341.84,339.21v1.34M317.21,342.51v0.94M337.56,342.67v0.63M320.18,339.80v1.18M329.53,339.60v1.11M317.61,341.46v0.77M337.06,340.57v1.09M341.34,340.49v1.24M326.59,342.00v1.31M330.16,342.41v1.29M346.94,340.45v1.14M347.79,343.00v1.36M330.53,341.26v0.72M326.13,340.29v1.15M351.23,340.05v0.93M323.25,341.23v0.91M327.85,340.10v1.49" stroke="#a8a8a8" stroke-width="0.6" fill="none"/>
<rect x="351.7" y="307" width="34.2" height="9.9" fill="#c2c2c2"/>
<rect x="351.7" y="326.2" width="34.2" height="8.5" fill="#c2c2c2"/>
<path d="M352.05,307.3V307.17M352.75,307.3V304.35M353.45,307.3V306.29M354.15,307.3V305.65M354.85,307.3V302.99M355.55,307.3V307.24M356.25,307.3V305.12M356.95,307.3V303.19M357.65,307.3V305.24M358.35,307.3V304.77M359.05,307.3V303.11M359.75,307.3V303.80M360.45,307.3V304.32M361.15,307.3V303.58M361.85,307.3V304.07M362.55,307.3V302.51M363.25,307.3V307.19M363.95,307.3V302.86M364.65,307.3V305.45M365.35,307.3V305.55M366.05,307.3V302.80M366.75,307.3V304.59M367.45,307.3V304.97M368.15,307.3V306.07M368.85,307.3V301.85M369.55,307.3V304.21M370.25,307.3V305.73M370.95,307.3V306.94M371.65,307.3V301.89M372.35,307.3V307.22M373.05,307.3V303.28M373.75,307.3V303.24M374.45,307.3V304.34M375.15,307.3V302.88M375.85,307.3V306.56M376.55,307.3V304.24M377.25,307.3V304.49M377.95,307.3V307.09M378.65,307.3V304.76M379.35,307.3V302.95M380.05,307.3V304.99M380.75,307.3V303.51M381.45,307.3V306.05M382.15,307.3V306.14M382.85,307.3V304.59M383.55,307.3V306.55M384.25,307.3V303.25M384.95,307.3V306.94" stroke="#c2c2c2" stroke-width="0.7" fill="none"/>
<path d="M352.05,334.4V337.51M352.75,334.4V338.05M353.45,334.4V336.23M354.15,334.4V337.39M354.85,334.4V335.40M355.55,334.4V336.30M356.25,334.4V337.35M356.95,334.4V336.49M357.65,334.4V338.05M358.35,334.4V334.56M359.05,334.4V336.78M359.75,334.4V336.01M360.45,334.4V338.16M361.15,334.4V337.36M361.85,334.4V337.18M362.55,334.4V337.06M363.25,334.4V335.08M363.95,334.4V337.81M364.65,334.4V337.85M365.35,334.4V336.23M366.05,334.4V334.66M366.75,334.4V335.16M367.45,334.4V337.69M368.15,334.4V338.18M368.85,334.4V335.08M369.55,334.4V334.76M370.25,334.4V340.24M370.95,334.4V337.76M371.65,334.4V338.22M372.35,334.4V337.07M373.05,334.4V335.42M373.75,334.4V338.41M374.45,334.4V338.23M375.15,334.4V336.84M375.85,334.4V336.86M376.55,334.4V337.68M377.25,334.4V337.55M377.95,334.4V335.25M378.65,334.4V336.09M379.35,334.4V337.07M380.05,334.4V337.10M380.75,334.4V338.49M381.45,334.4V336.28M382.15,334.4V336.04M382.85,334.4V338.00M383.55,334.4V335.89M384.25,334.4V335.83M384.95,334.4V337.20" stroke="#c2c2c2" stroke-width="0.7" fill="none"/>
<path d="M354.57,300.61v1.28M367.89,300.45v0.86M352.73,301.84v1.32M354.35,302.33v1.14M362.62,299.91v0.98M383.25,302.58v1.12M370.76,300.11v0.68M371.47,302.67v1.46M378.30,301.94v0.74M376.09,302.00v1.11M356.66,299.95v0.74M367.61,301.61v0.85M379.18,299.80v1.09M360.84,302.26v1.13M358.65,301.28v0.83M358.46,301.51v1.12M364.69,300.31v1.34M379.68,302.80v0.79M382.48,302.71v1.03M373.87,302.10v1.30" stroke="#a8a8a8" stroke-width="0.6" fill="none"/>
<path d="M359.43,342.51v0.92M366.22,340.11v1.26M362.85,339.77v0.71M352.22,340.81v1.14M363.79,342.89v0.92M356.01,342.23v0.68M365.74,339.63v1.49M377.62,341.58v1.03M369.83,340.65v1.06M378.68,342.30v0.68M384.50,340.24v1.00M378.33,340.33v1.36M354.88,342.54v0.66M374.51,340.65v1.07M374.80,339.43v0.72M351.80,342.95v1.35M385.11,339.71v1.28M355.82,339.66v0.81M356.06,340.41v0.82M366.65,340.83v1.02" stroke="#a8a8a8" stroke-width="0.6" fill="none"/>
<rect x="385.9" y="307" width="32.1" height="9.9" fill="#8a8a8a"/>
<rect x="385.9" y="326.2" width="32.1" height="8.5" fill="#8a8a8a"/>
<path d="M386.25,307.3V305.68M386.95,307.3V305.15M387.65,307.3V307.25M388.35,307.3V303.73M389.05,307.3V306.31M389.75,307.3V306.01M390.45,307.3V302.61M391.15,307.3V306.78M391.85,307.3V306.35M392.55,307.3V303.97M393.25,307.3V304.98M393.95,307.3V302.85M394.65,307.3V306.35M395.35,307.3V306.73M396.05,307.3V307.21M396.75,307.3V303.13M397.45,307.3V306.58M398.15,307.3V307.18M398.85,307.3V305.93M399.55,307.3V302.29M400.25,307.3V307.20M400.95,307.3V307.25M401.65,307.3V305.74M402.35,307.3V305.20M403.05,307.3V305.46M403.75,307.3V304.33M404.45,307.3V305.09M405.15,307.3V307.20M405.85,307.3V303.33M406.55,307.3V303.10M407.25,307.3V304.18M407.95,307.3V303.47M408.65,307.3V303.50M409.35,307.3V304.42M410.05,307.3V307.25M410.75,307.3V303.46M411.45,307.3V306.47M412.15,307.3V305.89M412.85,307.3V303.15M413.55,307.3V306.64M414.25,307.3V304.95M414.95,307.3V307.27M415.65,307.3V303.71M416.35,307.3V304.01M417.05,307.3V302.99" stroke="#8a8a8a" stroke-width="0.7" fill="none"/>
<path d="M386.25,334.4V337.39M386.95,334.4V338.87M387.65,334.4V334.83M388.35,334.4V334.58M389.05,334.4V335.10M389.75,334.4V335.28M390.45,334.4V337.54M391.15,334.4V335.89M391.85,334.4V336.45M392.55,334.4V335.66M393.25,334.4V338.45M393.95,334.4V335.39M394.65,334.4V336.41M395.35,334.4V338.21M396.05,334.4V335.76M396.75,334.4V337.03M397.45,334.4V337.57M398.15,334.4V334.69M398.85,334.4V336.91M399.55,334.4V336.62M400.25,334.4V335.81M400.95,334.4V340.10M401.65,334.4V338.15M402.35,334.4V336.62M403.05,334.4V337.81M403.75,334.4V337.34M404.45,334.4V336.75M405.15,334.4V337.65M405.85,334.4V334.68M406.55,334.4V335.23M407.25,334.4V336.61M407.95,334.4V334.45M408.65,334.4V337.75M409.35,334.4V340.24M410.05,334.4V336.57M410.75,334.4V338.35M411.45,334.4V337.34M412.15,334.4V336.54M412.85,334.4V338.34M413.55,334.4V335.58M414.25,334.4V336.03M414.95,334.4V334.88M415.65,334.4V334.64M416.35,334.4V338.21M417.05,334.4V338.49" stroke="#8a8a8a" stroke-width="0.7" fill="none"/>
<path d="M401.07,302.19v1.29M407.16,300.84v1.18M393.16,302.87v1.46M412.26,301.61v0.67M387.30,300.00v1.26M400.25,301.96v1.20M388.08,302.68v1.25M400.38,301.98v1.09M393.76,300.53v0.80M407.62,299.87v1.38M397.27,300.89v0.66M415.15,301.94v1.15M417.68,301.27v0.61M405.55,300.96v0.60M404.95,302.53v1.30M398.64,299.84v0.89M394.72,302.01v0.69M405.10,301.15v1.32M402.94,300.52v0.61" stroke="#a8a8a8" stroke-width="0.6" fill="none"/>
<path d="M402.25,340.09v1.07M390.61,342.88v0.79M415.60,342.36v1.36M409.39,342.34v1.35M401.56,342.57v1.49M408.17,340.47v1.18M411.66,340.85v0.78M389.39,339.01v0.96M399.24,341.78v1.42M405.45,341.93v1.15M407.22,339.22v1.21M411.84,342.84v1.33M405.62,341.55v1.38M412.56,341.50v1.49M417.71,340.85v1.41M397.18,342.97v0.96M395.71,340.58v0.71M396.80,342.91v0.78M395.58,342.58v0.86" stroke="#a8a8a8" stroke-width="0.6" fill="none"/>
<rect x="418.0" y="307" width="31.6" height="9.9" fill="#c2c2c2"/>
<rect x="418.0" y="326.2" width="31.6" height="8.5" fill="#c2c2c2"/>
<path d="M418.35,307.3V305.36M419.05,307.3V302.45M419.75,307.3V305.01M420.45,307.3V301.06M421.15,307.3V306.89M421.85,307.3V306.97M422.55,307.3V302.91M423.25,307.3V306.68M423.95,307.3V304.65M424.65,307.3V303.25M425.35,307.3V305.07M426.05,307.3V306.99M426.75,307.3V303.12M427.45,307.3V305.72M428.15,307.3V300.52M428.85,307.3V304.46M429.55,307.3V305.87M430.25,307.3V303.44M430.95,307.3V306.78M431.65,307.3V302.91M432.35,307.3V301.43M433.05,307.3V306.67M433.75,307.3V306.07M434.45,307.3V305.32M435.15,307.3V307.21M435.85,307.3V303.75M436.55,307.3V302.99M437.25,307.3V307.21M437.95,307.3V303.17M438.65,307.3V306.12M439.35,307.3V304.69M440.05,307.3V300.88M440.75,307.3V305.96M441.45,307.3V304.39M442.15,307.3V306.75M442.85,307.3V307.10M443.55,307.3V300.49M444.25,307.3V302.89M444.95,307.3V306.71M445.65,307.3V303.91M446.35,307.3V304.77M447.05,307.3V304.76M447.75,307.3V306.34M448.45,307.3V301.25M449.15,307.3V303.74" stroke="#c2c2c2" stroke-width="0.7" fill="none"/>
<path d="M418.35,334.4V335.68M419.05,334.4V337.90M419.75,334.4V338.09M420.45,334.4V337.99M421.15,334.4V336.92M421.85,334.4V338.48M422.55,334.4V339.57M423.25,334.4V335.83M423.95,334.4V338.24M424.65,334.4V335.62M425.35,334.4V334.81M426.05,334.4V337.51M426.75,334.4V338.17M427.45,334.4V334.57M428.15,334.4V337.36M428.85,334.4V335.95M429.55,334.4V336.76M430.25,334.4V336.03M430.95,334.4V334.41M431.65,334.4V338.31M432.35,334.4V338.43M433.05,334.4V339.13M433.75,334.4V338.41M434.45,334.4V339.42M435.15,334.4V337.45M435.85,334.4V337.55M436.55,334.4V338.28M437.25,334.4V336.11M437.95,334.4V338.15M438.65,334.4V335.40M439.35,334.4V334.91M440.05,334.4V335.66M440.75,334.4V339.29M441.45,334.4V338.40M442.15,334.4V336.58M442.85,334.4V337.42M443.55,334.4V338.03M444.25,334.4V335.25M444.95,334.4V334.43M445.65,334.4V337.08M446.35,334.4V335.10M447.05,334.4V337.84M447.75,334.4V335.13M448.45,334.4V337.87M449.15,334.4V337.95" stroke="#c2c2c2" stroke-width="0.7" fill="none"/>
<path d="M424.83,300.91v0.65M427.15,301.18v1.38M447.19,300.67v1.16M433.98,300.27v1.11M431.19,302.42v1.27M419.74,302.33v1.11M419.99,300.18v0.67M437.28,302.57v1.10M436.48,301.87v1.17M444.68,302.82v1.13M430.93,302.78v0.79M443.51,302.59v0.74M437.42,302.72v1.27M442.00,300.63v1.38M448.15,301.66v0.83M419.25,301.75v0.82M441.85,300.67v0.93M448.98,301.73v1.44" stroke="#a8a8a8" stroke-width="0.6" fill="none"/>
<path d="M442.15,340.89v1.49M448.62,342.03v1.39M420.01,341.71v1.46M420.07,340.85v0.67M444.97,340.83v1.00M430.89,339.58v1.01M431.43,339.55v1.34M423.05,340.11v1.36M419.52,339.80v0.99M426.20,339.19v1.10M424.47,339.06v0.63M418.49,341.31v0.82M426.85,341.43v0.86M439.44,342.57v0.91M438.44,340.24v0.70M421.16,342.11v0.73M447.47,342.31v1.35M437.67,341.33v0.89" stroke="#a8a8a8" stroke-width="0.6" fill="none"/>
<rect x="449.6" y="307" width="31.0" height="9.9" fill="#8a8a8a"/>
<rect x="449.6" y="326.2" width="31.0" height="8.5" fill="#8a8a8a"/>
<path d="M449.95,307.3V305.13M450.65,307.3V304.36M451.35,307.3V303.68M452.05,307.3V305.22M452.75,307.3V306.61M453.45,307.3V303.11M454.15,307.3V305.69M454.85,307.3V306.64M455.55,307.3V307.13M456.25,307.3V304.98M456.95,307.3V306.38M457.65,307.3V304.29M458.35,307.3V305.24M459.05,307.3V305.79M459.75,307.3V303.07M460.45,307.3V304.88M461.15,307.3V301.14M461.85,307.3V304.25M462.55,307.3V304.64M463.25,307.3V304.45M463.95,307.3V306.86M464.65,307.3V303.44M465.35,307.3V305.39M466.05,307.3V307.29M466.75,307.3V304.79M467.45,307.3V305.75M468.15,307.3V305.61M468.85,307.3V306.26M469.55,307.3V305.24M470.25,307.3V306.41M470.95,307.3V305.83M471.65,307.3V305.60M472.35,307.3V302.93M473.05,307.3V304.40M473.75,307.3V303.60M474.45,307.3V305.93M475.15,307.3V305.18M475.85,307.3V302.87M476.55,307.3V307.25M477.25,307.3V307.27M477.95,307.3V305.52M478.65,307.3V305.03M479.35,307.3V306.05M480.05,307.3V305.55" stroke="#8a8a8a" stroke-width="0.7" fill="none"/>
<path d="M449.95,334.4V335.59M450.65,334.4V338.82M451.35,334.4V336.84M452.05,334.4V337.36M452.75,334.4V335.04M453.45,334.4V335.79M454.15,334.4V335.29M454.85,334.4V335.73M455.55,334.4V336.75M456.25,334.4V337.15M456.95,334.4V336.50M457.65,334.4V336.99M458.35,334.4V337.71M459.05,334.4V337.58M459.75,334.4V338.53M460.45,334.4V336.18M461.15,334.4V337.11M461.85,334.4V337.07M462.55,334.4V336.89M463.25,334.4V336.36M463.95,334.4V336.70M464.65,334.4V335.28M465.35,334.4V338.59M466.05,334.4V338.51M466.75,334.4V336.49M467.45,334.4V338.10M468.15,334.4V336.86M468.85,334.4V338.43M469.55,334.4V339.52M470.25,334.4V335.20M470.95,334.4V337.06M471.65,334.4V337.82M472.35,334.4V336.84M473.05,334.4V336.39M473.75,334.4V335.67M474.45,334.4V336.96M475.15,334.4V338.41M475.85,334.4V339.95M476.55,334.4V335.28M477.25,334.4V338.03M477.95,334.4V338.48M478.65,334.4V338.26M479.35,334.4V336.57M480.05,334.4V335.39" stroke="#8a8a8a" stroke-width="0.7" fill="none"/>
<path d="M474.56,300.67v1.13M465.27,302.00v0.80M480.46,300.87v1.50M452.23,301.87v0.69M455.67,300.64v1.29M480.44,301.79v1.00M473.95,300.59v1.30M455.32,301.60v0.86M478.89,301.25v1.29M470.02,302.75v1.22M461.73,302.27v0.61M472.30,300.61v0.96M470.80,301.16v1.31M457.44,300.75v1.45M469.12,300.18v0.80M479.50,300.98v0.61M473.37,300.02v0.81M465.36,302.36v1.14" stroke="#a8a8a8" stroke-width="0.6" fill="none"/>
<path d="M452.44,339.97v0.77M470.95,341.34v1.28M463.71,341.04v0.76M450.68,339.34v1.09M463.44,339.59v1.21M466.28,341.81v1.35M452.81,339.51v1.06M478.85,340.73v1.33M464.86,340.60v0.71M459.42,341.10v0.92M464.53,341.05v0.73M457.28,341.39v0.99M466.68,339.42v1.04M464.48,341.96v0.74M453.55,339.10v1.42M472.35,341.65v0.64M473.74,342.07v0.81M465.88,339.74v0.66" stroke="#a8a8a8" stroke-width="0.6" fill="none"/>
<rect x="480.6" y="307" width="31.6" height="9.9" fill="#c2c2c2"/>
<rect x="480.6" y="326.2" width="31.6" height="8.5" fill="#c2c2c2"/>
<path d="M480.95,307.3V305.36M481.65,307.3V305.16M482.35,307.3V305.32M483.05,307.3V304.08M483.75,307.3V307.07M484.45,307.3V305.23M485.15,307.3V306.34M485.85,307.3V306.30M486.55,307.3V304.17M487.25,307.3V302.96M487.95,307.3V306.30M488.65,307.3V305.38M489.35,307.3V303.08M490.05,307.3V303.98M490.75,307.3V300.48M491.45,307.3V306.82M492.15,307.3V305.49M492.85,307.3V306.95M493.55,307.3V304.40M494.25,307.3V305.14M494.95,307.3V305.22M495.65,307.3V307.22M496.35,307.3V304.14M497.05,307.3V306.54M497.75,307.3V305.08M498.45,307.3V307.26M499.15,307.3V303.36M499.85,307.3V303.38M500.55,307.3V303.08M501.25,307.3V306.90M501.95,307.3V306.10M502.65,307.3V303.96M503.35,307.3V302.95M504.05,307.3V303.30M504.75,307.3V307.16M505.45,307.3V307.29M506.15,307.3V305.54M506.85,307.3V304.64M507.55,307.3V303.06M508.25,307.3V303.05M508.95,307.3V304.63M509.65,307.3V304.35M510.35,307.3V307.10M511.05,307.3V306.81M511.75,307.3V301.03" stroke="#c2c2c2" stroke-width="0.7" fill="none"/>
<path d="M480.95,334.4V337.04M481.65,334.4V337.23M482.35,334.4V338.15M483.05,334.4V337.41M483.75,334.4V337.29M484.45,334.4V337.08M485.15,334.4V337.43M485.85,334.4V336.44M486.55,334.4V337.71M487.25,334.4V336.44M487.95,334.4V337.95M488.65,334.4V338.60M489.35,334.4V335.10M490.05,334.4V340.10M490.75,334.4V337.34M491.45,334.4V336.67M492.15,334.4V337.90M492.85,334.4V339.35M493.55,334.4V336.32M494.25,334.4V338.12M494.95,334.4V337.05M495.65,334.4V338.39M496.35,334.4V337.16M497.05,334.4V336.53M497.75,334.4V335.16M498.45,334.4V336.75M499.15,334.4V337.09M499.85,334.4V336.02M500.55,334.4V337.38M501.25,334.4V336.18M501.95,334.4V335.21M502.65,334.4V336.05M503.35,334.4V338.14M504.05,334.4V338.34M504.75,334.4V336.09M505.45,334.4V337.66M506.15,334.4V338.00M506.85,334.4V335.54M507.55,334.4V336.44M508.25,334.4V336.03M508.95,334.4V338.37M509.65,334.4V336.63M510.35,334.4V334.68M511.05,334.4V335.77M511.75,334.4V335.20" stroke="#c2c2c2" stroke-width="0.7" fill="none"/>
<path d="M503.61,300.05v0.73M496.60,301.47v0.94M506.73,300.14v0.99M510.16,302.80v1.50M495.69,300.35v1.18M489.89,300.16v1.29M497.05,300.73v0.95M510.99,302.61v1.09M483.91,301.20v1.15M501.29,300.47v1.04M488.26,302.09v0.75M503.79,302.27v1.47M481.41,301.30v0.84M496.62,302.01v0.67M496.09,301.44v0.97M496.90,299.92v1.15M510.68,300.38v1.06M486.49,300.34v0.64" stroke="#a8a8a8" stroke-width="0.6" fill="none"/>
<path d="M496.10,340.19v1.31M481.48,342.28v0.95M497.65,339.62v0.67M497.80,341.93v1.14M494.60,341.71v0.64M495.74,340.14v1.30M480.66,339.24v0.63M510.34,341.16v1.21M493.53,341.61v0.91M494.12,341.10v0.65M495.66,342.98v1.15M492.85,340.58v1.28M498.19,341.93v1.38M501.44,342.72v1.15M486.26,339.79v1.32M506.85,341.60v0.76M495.14,339.66v0.84M501.00,341.67v0.83" stroke="#a8a8a8" stroke-width="0.6" fill="none"/>
<rect x="512.2" y="307" width="21.6" height="9.9" fill="#8a8a8a"/>
<rect x="512.2" y="326.2" width="21.6" height="8.5" fill="#8a8a8a"/>
<path d="M512.55,307.3V305.83M513.25,307.3V305.63M513.95,307.3V307.16M514.65,307.3V307.02M515.35,307.3V304.87M516.05,307.3V304.30M516.75,307.3V304.83M517.45,307.3V303.70M518.15,307.3V307.29M518.85,307.3V307.24M519.55,307.3V306.49M520.25,307.3V303.33M520.95,307.3V304.73M521.65,307.3V302.94M522.35,307.3V304.00M523.05,307.3V303.40M523.75,307.3V301.44M524.45,307.3V304.15M525.15,307.3V306.69M525.85,307.3V305.22M526.55,307.3V303.73M527.25,307.3V306.37M527.95,307.3V303.15M528.65,307.3V305.27M529.35,307.3V306.34M530.05,307.3V306.08M530.75,307.3V304.95M531.45,307.3V305.01M532.15,307.3V303.31M532.85,307.3V306.49" stroke="#8a8a8a" stroke-width="0.7" fill="none"/>
<path d="M512.55,334.4V336.47M513.25,334.4V337.63M513.95,334.4V337.57M514.65,334.4V337.62M515.35,334.4V337.20M516.05,334.4V338.93M516.75,334.4V335.52M517.45,334.4V337.45M518.15,334.4V335.26M518.85,334.4V335.21M519.55,334.4V334.81M520.25,334.4V336.92M520.95,334.4V337.96M521.65,334.4V336.50M522.35,334.4V337.00M523.05,334.4V338.14M523.75,334.4V338.45M524.45,334.4V335.25M525.15,334.4V335.71M525.85,334.4V339.87M526.55,334.4V338.60M527.25,334.4V337.93M527.95,334.4V334.57M528.65,334.4V334.79M529.35,334.4V335.49M530.05,334.4V336.99M530.75,334.4V335.64M531.45,334.4V337.59M532.15,334.4V338.55M532.85,334.4V337.16" stroke="#8a8a8a" stroke-width="0.7" fill="none"/>
<path d="M516.02,300.10v1.19M523.68,300.89v0.89M518.64,299.83v1.48M533.12,300.06v1.03M519.51,301.97v0.67M532.55,302.73v1.08M529.10,301.83v1.11M521.54,300.72v1.46M514.43,302.75v0.80M519.76,300.25v1.23M513.84,301.15v0.92M522.10,299.85v1.06" stroke="#a8a8a8" stroke-width="0.6" fill="none"/>
<path d="M520.56,342.69v1.33M513.33,339.44v1.38M520.41,342.10v1.01M526.18,339.10v1.43M513.89,339.35v1.31M514.17,342.11v1.06M515.89,339.57v0.67M513.25,342.04v0.71M525.05,341.34v0.96M520.23,341.40v1.34M532.33,341.48v0.78M513.71,339.55v1.06" stroke="#a8a8a8" stroke-width="0.6" fill="none"/>
<rect x="533.8" y="307" width="20.9" height="9.9" fill="#c2c2c2"/>
<rect x="533.8" y="326.2" width="20.9" height="8.5" fill="#c2c2c2"/>
<path d="M534.15,307.3V306.70M534.85,307.3V307.20M535.55,307.3V306.40M536.25,307.3V306.67M536.95,307.3V303.02M537.65,307.3V304.78M538.35,307.3V306.60M539.05,307.3V303.90M539.75,307.3V304.98M540.45,307.3V306.62M541.15,307.3V303.04M541.85,307.3V303.00M542.55,307.3V306.32M543.25,307.3V301.85M543.95,307.3V305.47M544.65,307.3V304.05M545.35,307.3V306.84M546.05,307.3V306.55M546.75,307.3V303.33M547.45,307.3V304.52M548.15,307.3V305.23M548.85,307.3V306.78M549.55,307.3V304.80M550.25,307.3V305.95M550.95,307.3V304.52M551.65,307.3V304.92M552.35,307.3V302.86M553.05,307.3V304.64M553.75,307.3V306.70" stroke="#c2c2c2" stroke-width="0.7" fill="none"/>
<path d="M534.15,334.4V336.99M534.85,334.4V338.00M535.55,334.4V337.16M536.25,334.4V336.29M536.95,334.4V335.33M537.65,334.4V335.13M538.35,334.4V334.57M539.05,334.4V338.05M539.75,334.4V337.12M540.45,334.4V335.56M541.15,334.4V338.13M541.85,334.4V338.86M542.55,334.4V334.77M543.25,334.4V335.53M543.95,334.4V337.84M544.65,334.4V336.04M545.35,334.4V336.32M546.05,334.4V336.64M546.75,334.4V337.55M547.45,334.4V338.29M548.15,334.4V336.79M548.85,334.4V336.66M549.55,334.4V334.42M550.25,334.4V337.37M550.95,334.4V338.50M551.65,334.4V337.10M552.35,334.4V338.11M553.05,334.4V337.86M553.75,334.4V335.53" stroke="#c2c2c2" stroke-width="0.7" fill="none"/>
<path d="M553.11,300.52v1.04M552.47,302.76v0.68M549.54,300.74v0.88M535.76,301.80v1.27M535.91,300.35v0.83M535.61,301.99v1.33M541.34,301.51v1.33M549.19,300.90v1.04M547.18,302.85v0.73M545.59,301.91v0.65M535.71,300.09v0.88M535.35,301.87v1.46" stroke="#a8a8a8" stroke-width="0.6" fill="none"/>
<path d="M552.39,341.89v1.13M553.99,340.17v1.15M552.72,342.17v1.48M553.79,341.90v0.85M545.72,340.29v0.73M536.38,341.05v1.48M534.29,342.49v1.30M553.46,339.25v0.67M537.74,340.84v1.31M537.97,341.34v1.25M542.46,340.33v0.75M547.05,342.68v0.71" stroke="#a8a8a8" stroke-width="0.6" fill="none"/>
<rect x="554.7" y="307" width="18.5" height="9.9" fill="#8a8a8a"/>
<rect x="554.7" y="326.2" width="18.5" height="8.5" fill="#8a8a8a"/>
<path d="M555.05,307.3V306.09M555.75,307.3V303.29M556.45,307.3V307.12M557.15,307.3V306.13M557.85,307.3V306.49M558.55,307.3V307.02M559.25,307.3V307.09M559.95,307.3V304.71M560.65,307.3V306.71M561.35,307.3V306.77M562.05,307.3V303.86M562.75,307.3V305.89M563.45,307.3V306.55M564.15,307.3V305.10M564.85,307.3V306.81M565.55,307.3V306.97M566.25,307.3V303.75M566.95,307.3V302.29M567.65,307.3V303.52M568.35,307.3V303.67M569.05,307.3V306.57M569.75,307.3V306.13M570.45,307.3V306.64M571.15,307.3V303.59M571.85,307.3V302.89M572.55,307.3V303.96" stroke="#8a8a8a" stroke-width="0.7" fill="none"/>
<path d="M555.05,334.4V338.02M555.75,334.4V338.43M556.45,334.4V336.89M557.15,334.4V334.45M557.85,334.4V339.83M558.55,334.4V337.13M559.25,334.4V335.74M559.95,334.4V338.32M560.65,334.4V337.59M561.35,334.4V336.33M562.05,334.4V336.53M562.75,334.4V337.54M563.45,334.4V335.78M564.15,334.4V334.63M564.85,334.4V337.97M565.55,334.4V335.33M566.25,334.4V337.97M566.95,334.4V338.78M567.65,334.4V335.43M568.35,334.4V334.99M569.05,334.4V338.58M569.75,334.4V338.51M570.45,334.4V334.68M571.15,334.4V338.59M571.85,334.4V338.42M572.55,334.4V337.60" stroke="#8a8a8a" stroke-width="0.7" fill="none"/>
<path d="M555.13,302.80v0.87M564.44,302.74v1.35M561.16,300.83v0.64M569.83,301.33v0.66M556.45,301.17v1.12M568.48,301.10v1.49M571.63,301.54v0.76M571.02,302.87v0.92M561.86,300.80v1.33M565.25,302.06v0.80M567.89,300.86v0.99" stroke="#a8a8a8" stroke-width="0.6" fill="none"/>
<path d="M568.97,341.16v1.04M562.00,342.41v0.76M562.12,339.01v1.47M559.57,342.09v0.86M557.04,340.51v1.10M559.43,342.00v0.67M569.78,342.53v0.72M569.32,341.88v1.11M569.18,342.78v0.66M555.09,342.57v1.30M569.73,339.37v1.25" stroke="#a8a8a8" stroke-width="0.6" fill="none"/>
<rect x="573.2" y="307" width="21.7" height="9.9" fill="#c2c2c2"/>
<rect x="573.2" y="326.2" width="21.7" height="8.5" fill="#c2c2c2"/>
<path d="M573.55,307.3V305.65M574.25,307.3V306.77M574.95,307.3V304.18M575.65,307.3V302.94M576.35,307.3V305.90M577.05,307.3V306.05M577.75,307.3V306.21M578.45,307.3V306.89M579.15,307.3V305.50M579.85,307.3V307.20M580.55,307.3V306.23M581.25,307.3V307.09M581.95,307.3V304.31M582.65,307.3V306.29M583.35,307.3V307.24M584.05,307.3V306.71M584.75,307.3V307.15M585.45,307.3V305.04M586.15,307.3V306.02M586.85,307.3V304.83M587.55,307.3V306.63M588.25,307.3V303.31M588.95,307.3V306.07M589.65,307.3V306.81M590.35,307.3V304.31M591.05,307.3V300.35M591.75,307.3V305.03M592.45,307.3V305.98M593.15,307.3V304.50M593.85,307.3V302.86M594.55,307.3V306.72" stroke="#c2c2c2" stroke-width="0.7" fill="none"/>
<path d="M573.55,334.4V338.42M574.25,334.4V336.27M574.95,334.4V338.57M575.65,334.4V337.58M576.35,334.4V336.61M577.05,334.4V335.58M577.75,334.4V338.40M578.45,334.4V334.68M579.15,334.4V336.68M579.85,334.4V335.52M580.55,334.4V336.37M581.25,334.4V336.87M581.95,334.4V336.05M582.65,334.4V336.90M583.35,334.4V336.81M584.05,334.4V337.14M584.75,334.4V337.15M585.45,334.4V338.12M586.15,334.4V338.50M586.85,334.4V336.00M587.55,334.4V337.18M588.25,334.4V334.41M588.95,334.4V338.27M589.65,334.4V336.05M590.35,334.4V337.05M591.05,334.4V336.14M591.75,334.4V337.43M592.45,334.4V335.71M593.15,334.4V334.87M593.85,334.4V337.76M594.55,334.4V339.20" stroke="#c2c2c2" stroke-width="0.7" fill="none"/>
<path d="M573.90,300.17v0.71M574.88,300.19v1.45M577.58,302.61v0.61M593.28,302.50v0.89M594.26,302.24v1.31M593.37,301.63v0.62M583.67,302.79v1.28M573.34,302.80v0.99M579.79,300.50v1.19M575.67,300.72v0.96M592.13,301.50v1.27M591.72,302.46v0.74M577.31,302.52v1.28" stroke="#a8a8a8" stroke-width="0.6" fill="none"/>
<path d="M580.70,340.90v0.80M594.57,342.65v0.72M576.43,341.60v1.47M589.12,342.75v1.41M588.43,340.69v1.12M582.91,342.48v1.24M578.07,341.81v1.38M591.60,339.05v0.89M590.47,341.60v1.42M590.40,341.95v1.49M590.96,341.08v1.21M573.85,341.83v1.33M576.77,339.62v1.19" stroke="#a8a8a8" stroke-width="0.6" fill="none"/>
<rect x="594.9" y="307" width="19.1" height="9.9" fill="#8a8a8a"/>
<rect x="594.9" y="326.2" width="19.1" height="8.5" fill="#8a8a8a"/>
<path d="M595.25,307.3V306.88M595.95,307.3V303.12M596.65,307.3V303.29M597.35,307.3V303.68M598.05,307.3V303.24M598.75,307.3V305.03M599.45,307.3V303.92M600.15,307.3V303.84M600.85,307.3V303.68M601.55,307.3V306.12M602.25,307.3V305.61M602.95,307.3V304.52M603.65,307.3V304.57M604.35,307.3V303.08M605.05,307.3V304.48M605.75,307.3V303.08M606.45,307.3V304.83M607.15,307.3V304.57M607.85,307.3V306.53M608.55,307.3V303.01M609.25,307.3V306.99M609.95,307.3V305.70M610.65,307.3V306.86M611.35,307.3V305.89M612.05,307.3V305.02M612.75,307.3V305.07M613.45,307.3V304.25" stroke="#8a8a8a" stroke-width="0.7" fill="none"/>
<path d="M595.25,334.4V338.25M595.95,334.4V335.03M596.65,334.4V336.42M597.35,334.4V335.91M598.05,334.4V337.54M598.75,334.4V340.00M599.45,334.4V334.61M600.15,334.4V338.84M600.85,334.4V338.06M601.55,334.4V337.71M602.25,334.4V336.34M602.95,334.4V336.25M603.65,334.4V335.36M604.35,334.4V336.19M605.05,334.4V336.11M605.75,334.4V336.66M606.45,334.4V335.29M607.15,334.4V337.74M607.85,334.4V338.45M608.55,334.4V337.77M609.25,334.4V336.13M609.95,334.4V336.57M610.65,334.4V335.29M611.35,334.4V336.62M612.05,334.4V334.68M612.75,334.4V336.50M613.45,334.4V337.12" stroke="#8a8a8a" stroke-width="0.7" fill="none"/>
<path d="M597.06,302.14v0.78M611.39,301.55v1.48M605.88,301.87v1.13M609.22,301.57v0.84M605.18,302.71v1.37M600.45,300.33v1.00M610.18,301.54v1.13M598.31,302.69v1.21M608.15,301.41v1.17M602.30,302.09v1.20M607.28,300.33v0.87" stroke="#a8a8a8" stroke-width="0.6" fill="none"/>
<path d="M602.15,341.34v0.84M595.33,340.86v0.89M612.85,340.76v0.93M612.50,339.90v0.67M610.49,341.44v1.06M610.81,341.22v1.48M602.88,342.63v1.35M601.78,341.98v0.98M612.49,342.56v1.03M596.72,341.04v0.85M599.71,340.12v1.11" stroke="#a8a8a8" stroke-width="0.6" fill="none"/>
<rect x="614.0" y="307" width="18.5" height="9.9" fill="#c2c2c2"/>
<rect x="614.0" y="326.2" width="18.5" height="8.5" fill="#c2c2c2"/>
<path d="M614.35,307.3V304.78M615.05,307.3V305.81M615.75,307.3V303.26M616.45,307.3V306.98M617.15,307.3V304.94M617.85,307.3V304.90M618.55,307.3V303.78M619.25,307.3V307.13M619.95,307.3V303.04M620.65,307.3V302.97M621.35,307.3V306.10M622.05,307.3V305.74M622.75,307.3V307.06M623.45,307.3V303.09M624.15,307.3V300.34M624.85,307.3V305.34M625.55,307.3V305.62M626.25,307.3V305.12M626.95,307.3V303.13M627.65,307.3V305.88M628.35,307.3V305.25M629.05,307.3V306.97M629.75,307.3V303.15M630.45,307.3V306.05M631.15,307.3V307.17M631.85,307.3V305.50" stroke="#c2c2c2" stroke-width="0.7" fill="none"/>
<path d="M614.35,334.4V337.24M615.05,334.4V337.26M615.75,334.4V340.19M616.45,334.4V337.12M617.15,334.4V336.80M617.85,334.4V337.75M618.55,334.4V336.53M619.25,334.4V336.46M619.95,334.4V335.78M620.65,334.4V335.18M621.35,334.4V336.00M622.05,334.4V336.97M622.75,334.4V339.23M623.45,334.4V336.40M624.15,334.4V338.55M624.85,334.4V336.17M625.55,334.4V335.31M626.25,334.4V337.60M626.95,334.4V335.01M627.65,334.4V335.43M628.35,334.4V337.09M629.05,334.4V336.82M629.75,334.4V334.99M630.45,334.4V338.39M631.15,334.4V336.19M631.85,334.4V338.06" stroke="#c2c2c2" stroke-width="0.7" fill="none"/>
<path d="M621.64,302.07v1.06M630.50,300.55v1.30M623.35,301.03v1.09M619.14,300.43v0.81M628.15,302.94v0.84M625.75,299.92v1.13M619.78,299.86v0.70M620.55,302.63v0.75M628.62,300.79v1.41M617.92,301.60v1.45M618.72,302.27v1.18" stroke="#a8a8a8" stroke-width="0.6" fill="none"/>
<path d="M616.08,342.60v1.36M614.71,341.00v0.87M622.03,342.04v1.19M620.04,340.70v1.05M619.46,341.07v0.61M624.86,340.53v1.49M618.45,341.95v1.27M618.23,341.28v1.08M625.69,341.76v1.12M614.28,340.32v0.88M616.49,341.82v1.39" stroke="#a8a8a8" stroke-width="0.6" fill="none"/>
<rect x="632.5" y="307" width="13.8" height="9.9" fill="#8a8a8a"/>
<rect x="632.5" y="326.2" width="13.8" height="8.5" fill="#8a8a8a"/>
<path d="M632.85,307.3V301.50M633.55,307.3V305.90M634.25,307.3V304.23M634.95,307.3V305.43M635.65,307.3V304.78M636.35,307.3V304.99M637.05,307.3V303.78M637.75,307.3V305.25M638.45,307.3V305.31M639.15,307.3V305.73M639.85,307.3V307.26M640.55,307.3V306.29M641.25,307.3V304.34M641.95,307.3V300.65M642.65,307.3V306.11M643.35,307.3V304.74M644.05,307.3V305.15M644.75,307.3V303.24M645.45,307.3V305.09" stroke="#8a8a8a" stroke-width="0.7" fill="none"/>
<path d="M632.85,334.4V338.15M633.55,334.4V336.92M634.25,334.4V336.51M634.95,334.4V335.83M635.65,334.4V334.79M636.35,334.4V335.75M637.05,334.4V335.65M637.75,334.4V336.38M638.45,334.4V336.09M639.15,334.4V335.66M639.85,334.4V337.31M640.55,334.4V335.70M641.25,334.4V335.84M641.95,334.4V337.40M642.65,334.4V336.68M643.35,334.4V338.01M644.05,334.4V338.12M644.75,334.4V336.28M645.45,334.4V336.77" stroke="#8a8a8a" stroke-width="0.7" fill="none"/>
<path d="M640.84,301.46v1.19M642.45,302.44v1.26M636.94,302.75v0.70M635.39,302.14v1.19M644.35,301.51v0.61M644.74,302.10v0.60M643.04,301.59v0.70M637.69,302.78v0.97" stroke="#a8a8a8" stroke-width="0.6" fill="none"/>
<path d="M636.11,340.51v0.61M645.91,342.02v0.70M644.62,342.19v0.73M632.91,341.12v0.77M637.96,339.04v1.42M645.44,340.06v1.19M635.89,341.92v0.71M634.60,341.60v0.91" stroke="#a8a8a8" stroke-width="0.6" fill="none"/>
<rect x="646.3" y="307" width="15.3" height="9.9" fill="#c2c2c2"/>
<rect x="646.3" y="326.2" width="15.3" height="8.5" fill="#c2c2c2"/>
<path d="M646.65,307.3V306.09M647.35,307.3V305.25M648.05,307.3V306.18M648.75,307.3V304.55M649.45,307.3V305.60M650.15,307.3V304.96M650.85,307.3V305.23M651.55,307.3V304.02M652.25,307.3V307.23M652.95,307.3V303.48M653.65,307.3V303.77M654.35,307.3V306.13M655.05,307.3V304.37M655.75,307.3V306.18M656.45,307.3V303.30M657.15,307.3V305.70M657.85,307.3V304.36M658.55,307.3V307.10M659.25,307.3V305.60M659.95,307.3V305.90M660.65,307.3V304.10" stroke="#c2c2c2" stroke-width="0.7" fill="none"/>
<path d="M646.65,334.4V337.95M647.35,334.4V336.43M648.05,334.4V340.28M648.75,334.4V335.07M649.45,334.4V335.47M650.15,334.4V337.63M650.85,334.4V335.83M651.55,334.4V335.79M652.25,334.4V338.96M652.95,334.4V334.65M653.65,334.4V336.07M654.35,334.4V334.50M655.05,334.4V338.58M655.75,334.4V336.71M656.45,334.4V335.61M657.15,334.4V337.89M657.85,334.4V337.26M658.55,334.4V338.03M659.25,334.4V339.58M659.95,334.4V337.61M660.65,334.4V336.59" stroke="#c2c2c2" stroke-width="0.7" fill="none"/>
<path d="M654.30,302.21v0.75M659.51,300.92v0.93M648.68,301.15v1.40M656.81,302.72v0.74M654.30,301.09v1.43M653.53,301.57v1.02M659.00,300.72v0.77M652.50,300.85v0.93M659.40,301.98v0.71" stroke="#a8a8a8" stroke-width="0.6" fill="none"/>
<path d="M653.36,342.34v0.61M656.99,341.29v0.86M661.52,341.87v1.23M648.52,342.37v0.62M655.86,339.90v0.66M655.19,339.25v0.92M649.03,342.75v1.38M659.80,342.63v1.46M660.72,339.67v1.27" stroke="#a8a8a8" stroke-width="0.6" fill="none"/>
<rect x="661.8" y="307" width="8.3" height="9.9" fill="#8a8a8a"/>
<rect x="661.8" y="326.2" width="8.3" height="8.5" fill="#8a8a8a"/>
<path d="M662.15,307.3V307.24M662.85,307.3V306.81M663.55,307.3V302.37M664.25,307.3V306.87M664.95,307.3V306.72M665.65,307.3V306.30M666.35,307.3V304.28M667.05,307.3V306.79M667.75,307.3V305.44M668.45,307.3V304.26M669.15,307.3V305.62" stroke="#8a8a8a" stroke-width="0.7" fill="none"/>
<path d="M662.15,334.4V337.28M662.85,334.4V337.32M663.55,334.4V337.74M664.25,334.4V335.44M664.95,334.4V339.24M665.65,334.4V335.79M666.35,334.4V336.36M667.05,334.4V337.20M667.75,334.4V337.54M668.45,334.4V337.84M669.15,334.4V338.41" stroke="#8a8a8a" stroke-width="0.7" fill="none"/>
<path d="M669.69,300.82v1.06M668.84,300.38v1.24M669.35,302.96v1.25M664.53,300.08v0.94" stroke="#a8a8a8" stroke-width="0.6" fill="none"/>
<path d="M666.45,341.20v1.36M666.16,340.62v0.70M666.54,339.33v0.89M664.84,340.65v0.66" stroke="#a8a8a8" stroke-width="0.6" fill="none"/>
<rect x="670.1" y="307" width="8.8" height="9.9" fill="#c2c2c2"/>
<rect x="670.1" y="326.2" width="8.8" height="8.5" fill="#c2c2c2"/>
<path d="M670.45,307.3V303.08M671.15,307.3V306.09M671.85,307.3V303.19M672.55,307.3V305.29M673.25,307.3V307.14M673.95,307.3V307.23M674.65,307.3V306.36M675.35,307.3V303.46M676.05,307.3V306.99M676.75,307.3V303.65M677.45,307.3V306.81M678.15,307.3V305.15" stroke="#c2c2c2" stroke-width="0.7" fill="none"/>
<path d="M670.45,334.4V336.87M671.15,334.4V336.59M671.85,334.4V337.16M672.55,334.4V336.74M673.25,334.4V336.46M673.95,334.4V339.20M674.65,334.4V335.52M675.35,334.4V338.00M676.05,334.4V335.28M676.75,334.4V336.07M677.45,334.4V339.11M678.15,334.4V335.83" stroke="#c2c2c2" stroke-width="0.7" fill="none"/>
<path d="M674.52,301.39v1.17M678.56,302.39v1.21M677.52,301.19v0.62M678.21,300.41v1.34M675.05,301.99v1.25" stroke="#a8a8a8" stroke-width="0.6" fill="none"/>
<path d="M676.36,342.56v1.48M677.14,339.78v0.78M676.66,339.54v0.85M672.45,342.18v0.94M671.93,341.68v0.75" stroke="#a8a8a8" stroke-width="0.6" fill="none"/>
<rect x="62.0" y="300" width="5.0" height="17" fill="#fff"/>
<rect x="62.0" y="326.5" width="5.0" height="17" fill="#fff"/>
<rect x="395.0" y="300" width="7.0" height="17" fill="#fff"/>
<rect x="395.0" y="326.5" width="7.0" height="17" fill="#fff"/>
<path d="M111.0,317L112.2,305L113.5,317z" fill="#fff" fill-opacity="0.7"/>
<path d="M111.0,326.5L112.2,338L113.5,326.5z" fill="#fff" fill-opacity="0.7"/>
<path d="M327.5,317L329.0,305L330.5,317z" fill="#fff" fill-opacity="0.7"/>
<path d="M327.5,326.5L329.0,338L330.5,326.5z" fill="#fff" fill-opacity="0.7"/>
<path d="M582.3,317L583.8,305L585.2,317z" fill="#fff" fill-opacity="0.7"/>
<path d="M582.3,326.5L583.8,338L585.2,326.5z" fill="#fff" fill-opacity="0.7"/>
<path d="M287.0,240.3V305.0M287.0,297.1V305.0M305.1,267.9V305.0M342.8,253.1V305.0M374.7,272.8V305.0M610.5,289.2V305.0M610.8,221.8V305.0" stroke="#c9c9c9" stroke-width="2.2" fill="none"/>
<path d="M35.4,251.0V258.0M37.9,295.5V305.0M39.5,295.8V305.0M46.9,290.9V305.0M51.5,293.3V305.0M58.0,290.0V305.0M69.4,286.3V305.0M72.7,295.5V305.0M83.8,280.6V305.0M78.9,195.5V305.0M101.4,243.1V305.0M100.7,273.3V305.0M95.3,285.9V305.0M95.3,292.8V305.0M101.0,297.1V305.0M117.8,284.3V305.0M116.5,288.1V305.0M123.9,257.2V305.0M130.9,212.5V305.0M135.4,295.0V305.0M133.8,295.8V305.0M136.2,294.5V305.0M141.5,205.0V305.0M158.9,279.0V305.0M163.8,293.3V305.0M165.7,291.7V305.0M171.5,295.8V305.0M176.4,287.6V305.0M181.7,281.0V305.0M187.9,241.1V305.0M192.8,290.4V305.0M217.0,293.3V305.0M226.5,222.0V305.0M238.8,291.7V305.0M245.4,289.7V305.0M262.9,294.1V305.0M270.6,296.6V305.0M273.9,285.6V305.0M276.0,296.3V305.0M277.7,296.3V305.0M285.4,268.7V305.0M288.2,281.5V305.0M306.5,243.6V305.0M307.2,278.1V305.0M326.4,288.4V305.0M333.5,295.8V305.0M334.1,295.0V305.0M337.4,295.8V305.0M369.7,289.6V305.0M369.7,297.1V305.0M376.8,273.9V305.0M379.6,286.8V305.0M381.7,289.7V305.0M387.1,290.0V305.0M389.9,280.5V305.0M407.1,264.6V305.0M408.0,288.9V305.0M410.3,248.5V305.0M424.7,295.8V305.0M430.5,297.4V305.0M439.5,295.5V305.0M445.2,278.6V305.0M446.0,296.6V305.0M459.7,296.6V305.0M459.7,284.8V305.0M500.0,228.0V305.0M506.6,241.0V305.0M495.6,272.3V305.0M498.1,292.2V305.0M501.3,297.4V305.0M504.6,295.0V305.0M523.5,295.8V305.0M528.9,293.0V305.0M532.2,292.2V305.0M537.8,293.0V305.0M541.6,286.8V305.0M542.0,289.2V305.0M543.2,291.7V305.0M545.2,295.0V305.0M565.7,295.0V305.0M575.2,290.5V305.0M593.6,292.8V305.0M599.0,294.1V305.0M607.9,271.2V305.0M609.5,296.3V305.0M626.1,279.0V305.0M640.5,244.0V305.0M648.5,284.6V305.0M654.0,295.8V305.0M657.2,293.3V305.0M667.1,258.3V262.0M667.1,291.2V262.0M666.1,295.8V305.0M674.0,293.8V305.0M677.2,290.4V305.0" stroke="#a3a3a3" stroke-width="0.9" stroke-dasharray="1.6 0.9" fill="none"/>
<path d="M48.2,255.1V305.0M50.2,272.8V305.0M49.0,289.6V305.0M61.5,241.0V305.0M162.5,235.2V305.0M175.3,293.3V305.0M175.3,233.7V305.0M220.2,244.6V305.0M219.4,297.4V305.0M319.9,265.7V305.0M325.3,269.0V305.0M487.4,255.6V305.0M508.4,284.3V305.0M551.8,281.8V305.0M569.3,276.9V305.0M586.2,272.0V305.0M652.1,280.2V305.0M655.6,219.6V305.0" stroke="#6a6a6a" stroke-width="0.7" fill="none"/>
<path d="M35.6,337V360.8M50.0,337V344.7M55.3,337V344.7M78.5,337V418.2M100.7,337V347.8M101.5,337V367.9M118.0,337V347.1M130.9,337V372.7M136.1,337V345.4M162.4,337V363.0M176.7,337V345.2M187.8,337V356.6M226.4,337V368.4M289.2,337V344.7M305.3,337V351.4M307.2,337V351.4M325.2,337V364.2M407.4,337V350.2M425.9,337V344.7M495.8,337V353.5M500.0,337V357.8M506.7,337V345.2M508.8,337V344.7M551.7,337V345.2M640.7,337V349.5" stroke="#a3a3a3" stroke-width="0.9" stroke-dasharray="1.6 0.9" fill="none"/>
<path d="M124.0,337V351.4M141.1,337V381.4M220.3,337V351.8M287.1,337V363.2M377.1,337V352.5M487.5,337V362.5M532.3,337V350.2M610.6,337V366.1M652.1,337V351.1" stroke="#6a6a6a" stroke-width="0.7" fill="none"/>
<line x1="28.5" y1="299.4" x2="685" y2="299.4" stroke="#4a4a4a" stroke-width="0.85"/>
<line x1="28.5" y1="304.5" x2="685" y2="304.5" stroke="#777" stroke-width="0.7" stroke-dasharray="2.4 1.6" stroke-opacity="0.6"/>
<line x1="28.5" y1="316.9" x2="685" y2="316.9" stroke="#555" stroke-width="0.9"/>
<line x1="28.5" y1="326.2" x2="685" y2="326.2" stroke="#555" stroke-width="0.9"/>
<line x1="28.5" y1="338.4" x2="685" y2="338.4" stroke="#777" stroke-width="0.7" stroke-dasharray="2.4 1.6" stroke-opacity="0.7"/>
<line x1="28.5" y1="343.3" x2="685" y2="343.3" stroke="#4a4a4a" stroke-width="0.85"/>
<line x1="28.5" y1="183.2" x2="28.5" y2="317.3" stroke="#555" stroke-width="0.8"/>
<line x1="28.5" y1="325.8" x2="28.5" y2="423" stroke="#555" stroke-width="0.8"/>
<line x1="26" y1="316.9" x2="28.5" y2="316.9" stroke="#555" stroke-width="0.7"/>
<text x="24.2" y="316.9" font-size="6.6" fill="#222" text-anchor="end" dominant-baseline="central" stroke="#222" stroke-width="0.2">0</text>
<line x1="26" y1="304.6" x2="28.5" y2="304.6" stroke="#555" stroke-width="0.7"/>
<text x="24.2" y="304.6" font-size="6.6" fill="#222" text-anchor="end" dominant-baseline="central" stroke="#222" stroke-width="0.2">5</text>
<line x1="26" y1="292.4" x2="28.5" y2="292.4" stroke="#555" stroke-width="0.7"/>
<text x="24.2" y="292.4" font-size="6.6" fill="#222" text-anchor="end" dominant-baseline="central" stroke="#222" stroke-width="0.2">10</text>
<line x1="26" y1="280.3" x2="28.5" y2="280.3" stroke="#555" stroke-width="0.7"/>
<text x="24.2" y="280.3" font-size="6.6" fill="#222" text-anchor="end" dominant-baseline="central" stroke="#222" stroke-width="0.2">15</text>
<line x1="26" y1="268.2" x2="28.5" y2="268.2" stroke="#555" stroke-width="0.7"/>
<text x="24.2" y="268.2" font-size="6.6" fill="#222" text-anchor="end" dominant-baseline="central" stroke="#222" stroke-width="0.2">20</text>
<line x1="26" y1="256.3" x2="28.5" y2="256.3" stroke="#555" stroke-width="0.7"/>
<text x="24.2" y="256.3" font-size="6.6" fill="#222" text-anchor="end" dominant-baseline="central" stroke="#222" stroke-width="0.2">25</text>
<line x1="26" y1="244.2" x2="28.5" y2="244.2" stroke="#555" stroke-width="0.7"/>
<text x="24.2" y="244.2" font-size="6.6" fill="#222" text-anchor="end" dominant-baseline="central" stroke="#222" stroke-width="0.2">30</text>
<line x1="26" y1="232.1" x2="28.5" y2="232.1" stroke="#555" stroke-width="0.7"/>
<text x="24.2" y="232.1" font-size="6.6" fill="#222" text-anchor="end" dominant-baseline="central" stroke="#222" stroke-width="0.2">40</text>
<line x1="26" y1="219.8" x2="28.5" y2="219.8" stroke="#555" stroke-width="0.7"/>
<text x="24.2" y="219.8" font-size="6.6" fill="#222" text-anchor="end" dominant-baseline="central" stroke="#222" stroke-width="0.2">50</text>
<line x1="26" y1="207.8" x2="28.5" y2="207.8" stroke="#555" stroke-width="0.7"/>
<text x="24.2" y="207.8" font-size="6.6" fill="#222" text-anchor="end" dominant-baseline="central" stroke="#222" stroke-width="0.2">60</text>
<line x1="26" y1="195.8" x2="28.5" y2="195.8" stroke="#555" stroke-width="0.7"/>
<text x="24.2" y="195.8" font-size="6.6" fill="#222" text-anchor="end" dominant-baseline="central" stroke="#222" stroke-width="0.2">80</text>
<line x1="26" y1="183.7" x2="28.5" y2="183.7" stroke="#555" stroke-width="0.7"/>
<text x="24.2" y="183.7" font-size="6.6" fill="#222" text-anchor="end" dominant-baseline="central" stroke="#222" stroke-width="0.2">100</text>
<line x1="26" y1="326.2" x2="28.5" y2="326.2" stroke="#555" stroke-width="0.7"/>
<text x="24.2" y="326.2" font-size="6.6" fill="#222" text-anchor="end" dominant-baseline="central" stroke="#222" stroke-width="0.2">0</text>
<line x1="26" y1="338.4" x2="28.5" y2="338.4" stroke="#555" stroke-width="0.7"/>
<text x="24.2" y="338.4" font-size="6.6" fill="#222" text-anchor="end" dominant-baseline="central" stroke="#222" stroke-width="0.2">5</text>
<line x1="26" y1="350.6" x2="28.5" y2="350.6" stroke="#555" stroke-width="0.7"/>
<text x="24.2" y="350.6" font-size="6.6" fill="#222" text-anchor="end" dominant-baseline="central" stroke="#222" stroke-width="0.2">10</text>
<line x1="26" y1="362.5" x2="28.5" y2="362.5" stroke="#555" stroke-width="0.7"/>
<text x="24.2" y="362.5" font-size="6.6" fill="#222" text-anchor="end" dominant-baseline="central" stroke="#222" stroke-width="0.2">15</text>
<line x1="26" y1="374.6" x2="28.5" y2="374.6" stroke="#555" stroke-width="0.7"/>
<text x="24.2" y="374.6" font-size="6.6" fill="#222" text-anchor="end" dominant-baseline="central" stroke="#222" stroke-width="0.2">20</text>
<line x1="26" y1="386.6" x2="28.5" y2="386.6" stroke="#555" stroke-width="0.7"/>
<text x="24.2" y="386.6" font-size="6.6" fill="#222" text-anchor="end" dominant-baseline="central" stroke="#222" stroke-width="0.2">25</text>
<line x1="26" y1="398.6" x2="28.5" y2="398.6" stroke="#555" stroke-width="0.7"/>
<text x="24.2" y="398.6" font-size="6.6" fill="#222" text-anchor="end" dominant-baseline="central" stroke="#222" stroke-width="0.2">30</text>
<line x1="26" y1="410.5" x2="28.5" y2="410.5" stroke="#555" stroke-width="0.7"/>
<text x="24.2" y="410.5" font-size="6.6" fill="#222" text-anchor="end" dominant-baseline="central" stroke="#222" stroke-width="0.2">40</text>
<line x1="26" y1="422.6" x2="28.5" y2="422.6" stroke="#555" stroke-width="0.7"/>
<text x="24.2" y="422.6" font-size="6.6" fill="#222" text-anchor="end" dominant-baseline="central" stroke="#222" stroke-width="0.2">50</text>
<g transform="translate(9.6,320.1) rotate(-90)"><text x="0" y="0" font-size="9.6" fill="#222" stroke="#222" stroke-width="0.2">&#8722;</text><text x="7" y="0" font-size="9.6" fill="#222" stroke="#222" stroke-width="0.2">log<tspan font-size="6.4" dy="1.6">10</tspan><tspan dy="-1.6">(</tspan><tspan font-style="italic">p</tspan>)</text></g>
<text x="62.5" y="321.6" font-size="6.8" fill="#222" text-anchor="middle" dominant-baseline="central" stroke="#222" stroke-width="0.2">1</text>
<text x="118.5" y="321.6" font-size="6.8" fill="#222" text-anchor="middle" dominant-baseline="central" stroke="#222" stroke-width="0.2">2</text>
<text x="168.5" y="321.6" font-size="6.8" fill="#222" text-anchor="middle" dominant-baseline="central" stroke="#222" stroke-width="0.2">3</text>
<text x="212.7" y="321.6" font-size="6.8" fill="#222" text-anchor="middle" dominant-baseline="central" stroke="#222" stroke-width="0.2">4</text>
<text x="255.4" y="321.6" font-size="6.8" fill="#222" text-anchor="middle" dominant-baseline="central" stroke="#222" stroke-width="0.2">5</text>
<text x="295.5" y="321.6" font-size="6.8" fill="#222" text-anchor="middle" dominant-baseline="central" stroke="#222" stroke-width="0.2">6</text>
<text x="333.4" y="321.6" font-size="6.8" fill="#222" text-anchor="middle" dominant-baseline="central" stroke="#222" stroke-width="0.2">7</text>
<text x="368.5" y="321.6" font-size="6.8" fill="#222" text-anchor="middle" dominant-baseline="central" stroke="#222" stroke-width="0.2">8</text>
<text x="401.5" y="321.6" font-size="6.8" fill="#222" text-anchor="middle" dominant-baseline="central" stroke="#222" stroke-width="0.2">9</text>
<text x="434.2" y="321.6" font-size="6.8" fill="#222" text-anchor="middle" dominant-baseline="central" stroke="#222" stroke-width="0.2">10</text>
<text x="465.0" y="321.6" font-size="6.8" fill="#222" text-anchor="middle" dominant-baseline="central" stroke="#222" stroke-width="0.2">11</text>
<text x="496.2" y="321.6" font-size="6.8" fill="#222" text-anchor="middle" dominant-baseline="central" stroke="#222" stroke-width="0.2">12</text>
<text x="522.8" y="321.6" font-size="6.8" fill="#222" text-anchor="middle" dominant-baseline="central" stroke="#222" stroke-width="0.2">13</text>
<text x="544.3" y="321.6" font-size="6.8" fill="#222" text-anchor="middle" dominant-baseline="central" stroke="#222" stroke-width="0.2">14</text>
<text x="564.3" y="321.6" font-size="6.8" fill="#222" text-anchor="middle" dominant-baseline="central" stroke="#222" stroke-width="0.2">15</text>
<text x="584.4" y="321.6" font-size="6.8" fill="#222" text-anchor="middle" dominant-baseline="central" stroke="#222" stroke-width="0.2">16</text>
<text x="604.5" y="321.6" font-size="6.8" fill="#222" text-anchor="middle" dominant-baseline="central" stroke="#222" stroke-width="0.2">17</text>
<text x="623.5" y="321.6" font-size="6.8" fill="#222" text-anchor="middle" dominant-baseline="central" stroke="#222" stroke-width="0.2">18</text>
<text x="639.8" y="321.6" font-size="6.8" fill="#222" text-anchor="middle" dominant-baseline="central" stroke="#222" stroke-width="0.2">19</text>
<text x="654.0" y="321.6" font-size="6.8" fill="#222" text-anchor="middle" dominant-baseline="central" stroke="#222" stroke-width="0.2">20</text>
<text x="666.0" y="321.6" font-size="6.8" fill="#222" text-anchor="middle" dominant-baseline="central" stroke="#222" stroke-width="0.2">21</text>
<text x="674.6" y="321.6" font-size="6.8" fill="#222" text-anchor="middle" dominant-baseline="central" stroke="#222" stroke-width="0.2">22</text>
<text x="41.6" y="193.4" font-size="13" fill="#111" stroke="#111" stroke-width="0.2">(e)</text>
<text x="371" y="212.5" font-size="13.2" fill="#111" text-anchor="middle" dominant-baseline="central" stroke="#111" stroke-width="0.2">C-GWAS</text>
<text x="372" y="388.3" font-size="13.2" fill="#111" text-anchor="middle" dominant-baseline="central" stroke="#111" stroke-width="0.2">MinGWAS</text>
<path d="M46.6,251.8l3.3,3.3M46.6,255.2l3.3,-3.3" stroke="#3cb36a" stroke-width="1.2"/>
<path d="M36.2,292.2l3.3,3.3M36.2,295.5l3.3,-3.3" stroke="#3cb36a" stroke-width="1.2"/>
<path d="M37.9,292.6l3.3,3.3M37.9,295.8l3.3,-3.3" stroke="#3cb36a" stroke-width="1.2"/>
<path d="M45.2,287.7l3.3,3.3M45.2,290.9l3.3,-3.3" stroke="#3cb36a" stroke-width="1.2"/>
<path d="M49.9,290.1l3.3,3.3M49.9,293.3l3.3,-3.3" stroke="#3cb36a" stroke-width="1.2"/>
<path d="M67.8,283.1l3.3,3.3M67.8,286.3l3.3,-3.3" stroke="#3cb36a" stroke-width="1.2"/>
<path d="M71.0,292.2l3.3,3.3M71.0,295.5l3.3,-3.3" stroke="#3cb36a" stroke-width="1.2"/>
<path d="M82.1,277.4l3.3,3.3M82.1,280.6l3.3,-3.3" stroke="#3cb36a" stroke-width="1.2"/>
<path d="M93.6,282.7l3.3,3.3M93.6,285.9l3.3,-3.3" stroke="#3cb36a" stroke-width="1.2"/>
<path d="M93.6,289.6l3.3,3.3M93.6,292.8l3.3,-3.3" stroke="#3cb36a" stroke-width="1.2"/>
<path d="M99.3,293.9l3.3,3.3M99.3,297.1l3.3,-3.3" stroke="#3cb36a" stroke-width="1.2"/>
<path d="M102.8,296.7l3.3,3.3M102.8,299.9l3.3,-3.3" stroke="#3cb36a" stroke-width="1.2"/>
<path d="M104.8,295.9l3.3,3.3M104.8,299.1l3.3,-3.3" stroke="#3cb36a" stroke-width="1.2"/>
<path d="M105.3,295.9l3.3,3.3M105.3,299.1l3.3,-3.3" stroke="#3cb36a" stroke-width="1.2"/>
<path d="M112.8,296.7l3.3,3.3M112.8,299.9l3.3,-3.3" stroke="#3cb36a" stroke-width="1.2"/>
<path d="M114.8,284.9l3.3,3.3M114.8,288.1l3.3,-3.3" stroke="#3cb36a" stroke-width="1.2"/>
<path d="M132.2,292.6l3.3,3.3M132.2,295.8l3.3,-3.3" stroke="#3cb36a" stroke-width="1.2"/>
<path d="M157.2,275.8l3.3,3.3M157.2,279.0l3.3,-3.3" stroke="#3cb36a" stroke-width="1.2"/>
<path d="M164.0,288.5l3.3,3.3M164.0,291.8l3.3,-3.3" stroke="#3cb36a" stroke-width="1.2"/>
<path d="M169.8,292.6l3.3,3.3M169.8,295.8l3.3,-3.3" stroke="#3cb36a" stroke-width="1.2"/>
<path d="M167.0,295.9l3.3,3.3M167.0,299.1l3.3,-3.3" stroke="#3cb36a" stroke-width="1.2"/>
<path d="M180.0,277.8l3.3,3.3M180.0,281.0l3.3,-3.3" stroke="#3cb36a" stroke-width="1.2"/>
<path d="M179.8,295.5l3.3,3.3M179.8,298.8l3.3,-3.3" stroke="#3cb36a" stroke-width="1.2"/>
<path d="M191.2,287.2l3.3,3.3M191.2,290.4l3.3,-3.3" stroke="#3cb36a" stroke-width="1.2"/>
<path d="M215.3,290.1l3.3,3.3M215.3,293.3l3.3,-3.3" stroke="#3cb36a" stroke-width="1.2"/>
<path d="M217.8,295.9l3.3,3.3M217.8,299.1l3.3,-3.3" stroke="#3cb36a" stroke-width="1.2"/>
<path d="M228.2,296.7l3.3,3.3M228.2,299.9l3.3,-3.3" stroke="#3cb36a" stroke-width="1.2"/>
<path d="M243.8,286.5l3.3,3.3M243.8,289.8l3.3,-3.3" stroke="#3cb36a" stroke-width="1.2"/>
<path d="M251.8,295.0l3.3,3.3M251.8,298.2l3.3,-3.3" stroke="#3cb36a" stroke-width="1.2"/>
<path d="M272.2,282.4l3.3,3.3M272.2,285.6l3.3,-3.3" stroke="#3cb36a" stroke-width="1.2"/>
<path d="M274.4,293.1l3.3,3.3M274.4,296.3l3.3,-3.3" stroke="#3cb36a" stroke-width="1.2"/>
<path d="M276.1,293.1l3.3,3.3M276.1,296.3l3.3,-3.3" stroke="#3cb36a" stroke-width="1.2"/>
<path d="M286.6,278.2l3.3,3.3M286.6,281.5l3.3,-3.3" stroke="#3cb36a" stroke-width="1.2"/>
<path d="M285.4,293.9l3.3,3.3M285.4,297.1l3.3,-3.3" stroke="#3cb36a" stroke-width="1.2"/>
<path d="M304.9,240.3l3.3,3.3M304.9,243.7l3.3,-3.3" stroke="#3cb36a" stroke-width="1.2"/>
<path d="M318.2,262.5l3.3,3.3M318.2,265.8l3.3,-3.3" stroke="#3cb36a" stroke-width="1.2"/>
<path d="M321.5,295.9l3.3,3.3M321.5,299.1l3.3,-3.3" stroke="#3cb36a" stroke-width="1.2"/>
<path d="M335.8,292.6l3.3,3.3M335.8,295.8l3.3,-3.3" stroke="#3cb36a" stroke-width="1.2"/>
<path d="M341.2,249.8l3.3,3.3M341.2,253.2l3.3,-3.3" stroke="#3cb36a" stroke-width="1.2"/>
<path d="M353.9,296.7l3.3,3.3M353.9,299.9l3.3,-3.3" stroke="#3cb36a" stroke-width="1.2"/>
<path d="M356.2,296.2l3.3,3.3M356.2,299.4l3.3,-3.3" stroke="#3cb36a" stroke-width="1.2"/>
<path d="M368.1,286.4l3.3,3.3M368.1,289.6l3.3,-3.3" stroke="#3cb36a" stroke-width="1.2"/>
<path d="M373.1,269.6l3.3,3.3M373.1,272.8l3.3,-3.3" stroke="#3cb36a" stroke-width="1.2"/>
<path d="M378.0,283.6l3.3,3.3M378.0,286.8l3.3,-3.3" stroke="#3cb36a" stroke-width="1.2"/>
<path d="M380.1,286.5l3.3,3.3M380.1,289.8l3.3,-3.3" stroke="#3cb36a" stroke-width="1.2"/>
<path d="M385.5,286.8l3.3,3.3M385.5,290.0l3.3,-3.3" stroke="#3cb36a" stroke-width="1.2"/>
<path d="M388.2,277.2l3.3,3.3M388.2,280.5l3.3,-3.3" stroke="#3cb36a" stroke-width="1.2"/>
<path d="M406.4,285.7l3.3,3.3M406.4,288.9l3.3,-3.3" stroke="#3cb36a" stroke-width="1.2"/>
<path d="M406.4,296.2l3.3,3.3M406.4,299.4l3.3,-3.3" stroke="#3cb36a" stroke-width="1.2"/>
<path d="M408.7,245.2l3.3,3.3M408.7,248.6l3.3,-3.3" stroke="#3cb36a" stroke-width="1.2"/>
<path d="M423.1,292.6l3.3,3.3M423.1,295.8l3.3,-3.3" stroke="#3cb36a" stroke-width="1.2"/>
<path d="M444.4,293.4l3.3,3.3M444.4,296.6l3.3,-3.3" stroke="#3cb36a" stroke-width="1.2"/>
<path d="M458.1,281.6l3.3,3.3M458.1,284.8l3.3,-3.3" stroke="#3cb36a" stroke-width="1.2"/>
<path d="M496.5,289.0l3.3,3.3M496.5,292.2l3.3,-3.3" stroke="#3cb36a" stroke-width="1.2"/>
<path d="M510.9,294.7l3.3,3.3M510.9,297.9l3.3,-3.3" stroke="#3cb36a" stroke-width="1.2"/>
<path d="M527.2,289.8l3.3,3.3M527.2,293.0l3.3,-3.3" stroke="#3cb36a" stroke-width="1.2"/>
<path d="M529.2,296.7l3.3,3.3M529.2,299.9l3.3,-3.3" stroke="#3cb36a" stroke-width="1.2"/>
<path d="M536.1,289.8l3.3,3.3M536.1,293.0l3.3,-3.3" stroke="#3cb36a" stroke-width="1.2"/>
<path d="M540.0,283.6l3.3,3.3M540.0,286.8l3.3,-3.3" stroke="#3cb36a" stroke-width="1.2"/>
<path d="M540.4,286.0l3.3,3.3M540.4,289.2l3.3,-3.3" stroke="#3cb36a" stroke-width="1.2"/>
<path d="M541.6,288.5l3.3,3.3M541.6,291.8l3.3,-3.3" stroke="#3cb36a" stroke-width="1.2"/>
<path d="M543.6,291.8l3.3,3.3M543.6,295.0l3.3,-3.3" stroke="#3cb36a" stroke-width="1.2"/>
<path d="M556.9,295.9l3.3,3.3M556.9,299.1l3.3,-3.3" stroke="#3cb36a" stroke-width="1.2"/>
<path d="M564.1,291.8l3.3,3.3M564.1,295.0l3.3,-3.3" stroke="#3cb36a" stroke-width="1.2"/>
<path d="M584.6,268.8l3.3,3.3M584.6,272.0l3.3,-3.3" stroke="#3cb36a" stroke-width="1.2"/>
<path d="M592.0,289.6l3.3,3.3M592.0,292.8l3.3,-3.3" stroke="#3cb36a" stroke-width="1.2"/>
<path d="M606.2,268.0l3.3,3.3M606.2,271.2l3.3,-3.3" stroke="#3cb36a" stroke-width="1.2"/>
<path d="M608.9,286.0l3.3,3.3M608.9,289.2l3.3,-3.3" stroke="#3cb36a" stroke-width="1.2"/>
<path d="M607.9,293.1l3.3,3.3M607.9,296.3l3.3,-3.3" stroke="#3cb36a" stroke-width="1.2"/>
<path d="M609.1,296.7l3.3,3.3M609.1,299.9l3.3,-3.3" stroke="#3cb36a" stroke-width="1.2"/>
<path d="M624.5,275.8l3.3,3.3M624.5,279.0l3.3,-3.3" stroke="#3cb36a" stroke-width="1.2"/>
<path d="M646.9,281.4l3.3,3.3M646.9,284.6l3.3,-3.3" stroke="#3cb36a" stroke-width="1.2"/>
<path d="M654.0,216.3l3.3,3.3M654.0,219.7l3.3,-3.3" stroke="#3cb36a" stroke-width="1.2"/>
<path d="M652.4,292.6l3.3,3.3M652.4,295.8l3.3,-3.3" stroke="#3cb36a" stroke-width="1.2"/>
<path d="M655.6,290.1l3.3,3.3M655.6,293.3l3.3,-3.3" stroke="#3cb36a" stroke-width="1.2"/>
<path d="M665.5,255.0l3.3,3.3M665.5,258.3l3.3,-3.3" stroke="#3cb36a" stroke-width="1.2"/>
<path d="M675.6,287.2l3.3,3.3M675.6,290.4l3.3,-3.3" stroke="#3cb36a" stroke-width="1.2"/>
<path d="M45.8,285.2h6.4l-3.2,5.6z" fill="#ea6418" stroke="#c05a20" stroke-width="0.4"/>
<path d="M47.4,285.5l3.2,3.2M47.4,288.7l3.2,-3.2" stroke="#3cb36a" stroke-width="1.0"/>
<path d="M54.8,285.6h6.4l-3.2,5.6z" fill="#ea6418" stroke="#c05a20" stroke-width="0.4"/>
<path d="M56.4,285.9l3.2,3.2M56.4,289.1l3.2,-3.2" stroke="#3cb36a" stroke-width="1.0"/>
<path d="M44.5,294.3h6.4l-3.2,5.6z" fill="#ea6418" stroke="#c05a20" stroke-width="0.4"/>
<path d="M46.1,294.6l3.2,3.2M46.1,297.8l3.2,-3.2" stroke="#3cb36a" stroke-width="1.0"/>
<path d="M51.9,293.8h6.4l-3.2,5.6z" fill="#ea6418" stroke="#c05a20" stroke-width="0.4"/>
<path d="M53.5,294.1l3.2,3.2M53.5,297.3l3.2,-3.2" stroke="#3cb36a" stroke-width="1.0"/>
<path d="M56.8,296.3h6.4l-3.2,5.6z" fill="#ea6418" stroke="#c05a20" stroke-width="0.4"/>
<path d="M58.4,296.6l3.2,3.2M58.4,299.8l3.2,-3.2" stroke="#3cb36a" stroke-width="1.0"/>
<path d="M77.0,294.3h6.4l-3.2,5.6z" fill="#ea6418" stroke="#c05a20" stroke-width="0.4"/>
<path d="M78.6,294.6l3.2,3.2M78.6,297.8l3.2,-3.2" stroke="#3cb36a" stroke-width="1.0"/>
<path d="M126.4,295.0h6.4l-3.2,5.6z" fill="#ea6418" stroke="#c05a20" stroke-width="0.4"/>
<path d="M128.0,295.3l3.2,3.2M128.0,298.5l3.2,-3.2" stroke="#3cb36a" stroke-width="1.0"/>
<path d="M132.2,290.6h6.4l-3.2,5.6z" fill="#ea6418" stroke="#c05a20" stroke-width="0.4"/>
<path d="M133.8,290.9l3.2,3.2M133.8,294.1l3.2,-3.2" stroke="#3cb36a" stroke-width="1.0"/>
<path d="M137.1,295.5h6.4l-3.2,5.6z" fill="#ea6418" stroke="#c05a20" stroke-width="0.4"/>
<path d="M138.7,295.8l3.2,3.2M138.7,299.0l3.2,-3.2" stroke="#3cb36a" stroke-width="1.0"/>
<path d="M151.1,295.2h6.4l-3.2,5.6z" fill="#ea6418" stroke="#c05a20" stroke-width="0.4"/>
<path d="M152.7,295.5l3.2,3.2M152.7,298.7l3.2,-3.2" stroke="#3cb36a" stroke-width="1.0"/>
<path d="M156.0,295.5h6.4l-3.2,5.6z" fill="#ea6418" stroke="#c05a20" stroke-width="0.4"/>
<path d="M157.6,295.8l3.2,3.2M157.6,299.0l3.2,-3.2" stroke="#3cb36a" stroke-width="1.0"/>
<path d="M160.6,288.9h6.4l-3.2,5.6z" fill="#ea6418" stroke="#c05a20" stroke-width="0.4"/>
<path d="M162.2,289.2l3.2,3.2M162.2,292.4l3.2,-3.2" stroke="#3cb36a" stroke-width="1.0"/>
<path d="M172.1,288.9h6.4l-3.2,5.6z" fill="#ea6418" stroke="#c05a20" stroke-width="0.4"/>
<path d="M173.7,289.2l3.2,3.2M173.7,292.4l3.2,-3.2" stroke="#3cb36a" stroke-width="1.0"/>
<path d="M171.6,294.3h6.4l-3.2,5.6z" fill="#ea6418" stroke="#c05a20" stroke-width="0.4"/>
<path d="M173.2,294.6l3.2,3.2M173.2,297.8l3.2,-3.2" stroke="#3cb36a" stroke-width="1.0"/>
<path d="M186.7,295.0h6.4l-3.2,5.6z" fill="#ea6418" stroke="#c05a20" stroke-width="0.4"/>
<path d="M188.3,295.3l3.2,3.2M188.3,298.5l3.2,-3.2" stroke="#3cb36a" stroke-width="1.0"/>
<path d="M216.2,293.0h6.4l-3.2,5.6z" fill="#ea6418" stroke="#c05a20" stroke-width="0.4"/>
<path d="M217.8,293.3l3.2,3.2M217.8,296.5l3.2,-3.2" stroke="#3cb36a" stroke-width="1.0"/>
<path d="M235.6,287.3h6.4l-3.2,5.6z" fill="#ea6418" stroke="#c05a20" stroke-width="0.4"/>
<path d="M237.2,287.6l3.2,3.2M237.2,290.8l3.2,-3.2" stroke="#3cb36a" stroke-width="1.0"/>
<path d="M246.6,294.7h6.4l-3.2,5.6z" fill="#ea6418" stroke="#c05a20" stroke-width="0.4"/>
<path d="M248.2,295.0l3.2,3.2M248.2,298.2l3.2,-3.2" stroke="#3cb36a" stroke-width="1.0"/>
<path d="M254.3,295.0h6.4l-3.2,5.6z" fill="#ea6418" stroke="#c05a20" stroke-width="0.4"/>
<path d="M255.9,295.3l3.2,3.2M255.9,298.5l3.2,-3.2" stroke="#3cb36a" stroke-width="1.0"/>
<path d="M255.1,295.0h6.4l-3.2,5.6z" fill="#ea6418" stroke="#c05a20" stroke-width="0.4"/>
<path d="M256.7,295.3l3.2,3.2M256.7,298.5l3.2,-3.2" stroke="#3cb36a" stroke-width="1.0"/>
<path d="M259.7,289.7h6.4l-3.2,5.6z" fill="#ea6418" stroke="#c05a20" stroke-width="0.4"/>
<path d="M261.3,290.0l3.2,3.2M261.3,293.2l3.2,-3.2" stroke="#3cb36a" stroke-width="1.0"/>
<path d="M267.4,292.2h6.4l-3.2,5.6z" fill="#ea6418" stroke="#c05a20" stroke-width="0.4"/>
<path d="M269.0,292.5l3.2,3.2M269.0,295.7l3.2,-3.2" stroke="#3cb36a" stroke-width="1.0"/>
<path d="M291.2,295.0h6.4l-3.2,5.6z" fill="#ea6418" stroke="#c05a20" stroke-width="0.4"/>
<path d="M292.8,295.3l3.2,3.2M292.8,298.5l3.2,-3.2" stroke="#3cb36a" stroke-width="1.0"/>
<path d="M297.8,294.3h6.4l-3.2,5.6z" fill="#ea6418" stroke="#c05a20" stroke-width="0.4"/>
<path d="M299.4,294.6l3.2,3.2M299.4,297.8l3.2,-3.2" stroke="#3cb36a" stroke-width="1.0"/>
<path d="M330.3,291.4h6.4l-3.2,5.6z" fill="#ea6418" stroke="#c05a20" stroke-width="0.4"/>
<path d="M331.9,291.7l3.2,3.2M331.9,294.9l3.2,-3.2" stroke="#3cb36a" stroke-width="1.0"/>
<path d="M330.9,290.6h6.4l-3.2,5.6z" fill="#ea6418" stroke="#c05a20" stroke-width="0.4"/>
<path d="M332.5,290.9l3.2,3.2M332.5,294.1l3.2,-3.2" stroke="#3cb36a" stroke-width="1.0"/>
<path d="M336.3,295.5h6.4l-3.2,5.6z" fill="#ea6418" stroke="#c05a20" stroke-width="0.4"/>
<path d="M337.9,295.8l3.2,3.2M337.9,299.0l3.2,-3.2" stroke="#3cb36a" stroke-width="1.0"/>
<path d="M346.2,293.8h6.4l-3.2,5.6z" fill="#ea6418" stroke="#c05a20" stroke-width="0.4"/>
<path d="M347.8,294.1l3.2,3.2M347.8,297.3l3.2,-3.2" stroke="#3cb36a" stroke-width="1.0"/>
<path d="M377.7,294.3h6.4l-3.2,5.6z" fill="#ea6418" stroke="#c05a20" stroke-width="0.4"/>
<path d="M379.3,294.6l3.2,3.2M379.3,297.8l3.2,-3.2" stroke="#3cb36a" stroke-width="1.0"/>
<path d="M387.2,295.0h6.4l-3.2,5.6z" fill="#ea6418" stroke="#c05a20" stroke-width="0.4"/>
<path d="M388.8,295.3l3.2,3.2M388.8,298.5l3.2,-3.2" stroke="#3cb36a" stroke-width="1.0"/>
<path d="M408.4,295.0h6.4l-3.2,5.6z" fill="#ea6418" stroke="#c05a20" stroke-width="0.4"/>
<path d="M410.0,295.3l3.2,3.2M410.0,298.5l3.2,-3.2" stroke="#3cb36a" stroke-width="1.0"/>
<path d="M419.9,294.7h6.4l-3.2,5.6z" fill="#ea6418" stroke="#c05a20" stroke-width="0.4"/>
<path d="M421.5,295.0l3.2,3.2M421.5,298.2l3.2,-3.2" stroke="#3cb36a" stroke-width="1.0"/>
<path d="M427.3,293.0h6.4l-3.2,5.6z" fill="#ea6418" stroke="#c05a20" stroke-width="0.4"/>
<path d="M428.9,293.3l3.2,3.2M428.9,296.5l3.2,-3.2" stroke="#3cb36a" stroke-width="1.0"/>
<path d="M436.3,291.1h6.4l-3.2,5.6z" fill="#ea6418" stroke="#c05a20" stroke-width="0.4"/>
<path d="M437.9,291.4l3.2,3.2M437.9,294.6l3.2,-3.2" stroke="#3cb36a" stroke-width="1.0"/>
<path d="M438.8,296.3h6.4l-3.2,5.6z" fill="#ea6418" stroke="#c05a20" stroke-width="0.4"/>
<path d="M440.4,296.6l3.2,3.2M440.4,299.8l3.2,-3.2" stroke="#3cb36a" stroke-width="1.0"/>
<path d="M448.6,295.5h6.4l-3.2,5.6z" fill="#ea6418" stroke="#c05a20" stroke-width="0.4"/>
<path d="M450.2,295.8l3.2,3.2M450.2,299.0l3.2,-3.2" stroke="#3cb36a" stroke-width="1.0"/>
<path d="M452.7,295.5h6.4l-3.2,5.6z" fill="#ea6418" stroke="#c05a20" stroke-width="0.4"/>
<path d="M454.3,295.8l3.2,3.2M454.3,299.0l3.2,-3.2" stroke="#3cb36a" stroke-width="1.0"/>
<path d="M456.5,292.2h6.4l-3.2,5.6z" fill="#ea6418" stroke="#c05a20" stroke-width="0.4"/>
<path d="M458.1,292.5l3.2,3.2M458.1,295.7l3.2,-3.2" stroke="#3cb36a" stroke-width="1.0"/>
<path d="M474.9,293.8h6.4l-3.2,5.6z" fill="#ea6418" stroke="#c05a20" stroke-width="0.4"/>
<path d="M476.5,294.1l3.2,3.2M476.5,297.3l3.2,-3.2" stroke="#3cb36a" stroke-width="1.0"/>
<path d="M484.2,293.8h6.4l-3.2,5.6z" fill="#ea6418" stroke="#c05a20" stroke-width="0.4"/>
<path d="M485.8,294.1l3.2,3.2M485.8,297.3l3.2,-3.2" stroke="#3cb36a" stroke-width="1.0"/>
<path d="M498.1,293.0h6.4l-3.2,5.6z" fill="#ea6418" stroke="#c05a20" stroke-width="0.4"/>
<path d="M499.7,293.3l3.2,3.2M499.7,296.5l3.2,-3.2" stroke="#3cb36a" stroke-width="1.0"/>
<path d="M501.4,290.6h6.4l-3.2,5.6z" fill="#ea6418" stroke="#c05a20" stroke-width="0.4"/>
<path d="M503.0,290.9l3.2,3.2M503.0,294.1l3.2,-3.2" stroke="#3cb36a" stroke-width="1.0"/>
<path d="M499.8,293.7h6.4l-3.2,5.6z" fill="#ea6418" stroke="#c05a20" stroke-width="0.4"/>
<path d="M501.4,294.0l3.2,3.2M501.4,297.2l3.2,-3.2" stroke="#3cb36a" stroke-width="1.0"/>
<path d="M520.3,291.4h6.4l-3.2,5.6z" fill="#ea6418" stroke="#c05a20" stroke-width="0.4"/>
<path d="M521.9,291.7l3.2,3.2M521.9,294.9l3.2,-3.2" stroke="#3cb36a" stroke-width="1.0"/>
<path d="M522.8,295.0h6.4l-3.2,5.6z" fill="#ea6418" stroke="#c05a20" stroke-width="0.4"/>
<path d="M524.4,295.3l3.2,3.2M524.4,298.5l3.2,-3.2" stroke="#3cb36a" stroke-width="1.0"/>
<path d="M533.9,295.0h6.4l-3.2,5.6z" fill="#ea6418" stroke="#c05a20" stroke-width="0.4"/>
<path d="M535.5,295.3l3.2,3.2M535.5,298.5l3.2,-3.2" stroke="#3cb36a" stroke-width="1.0"/>
<path d="M572.0,286.1h6.4l-3.2,5.6z" fill="#ea6418" stroke="#c05a20" stroke-width="0.4"/>
<path d="M573.6,286.4l3.2,3.2M573.6,289.6l3.2,-3.2" stroke="#3cb36a" stroke-width="1.0"/>
<path d="M588.8,295.0h6.4l-3.2,5.6z" fill="#ea6418" stroke="#c05a20" stroke-width="0.4"/>
<path d="M590.4,295.3l3.2,3.2M590.4,298.5l3.2,-3.2" stroke="#3cb36a" stroke-width="1.0"/>
<path d="M592.8,295.0h6.4l-3.2,5.6z" fill="#ea6418" stroke="#c05a20" stroke-width="0.4"/>
<path d="M594.4,295.3l3.2,3.2M594.4,298.5l3.2,-3.2" stroke="#3cb36a" stroke-width="1.0"/>
<path d="M595.8,289.7h6.4l-3.2,5.6z" fill="#ea6418" stroke="#c05a20" stroke-width="0.4"/>
<path d="M597.4,290.0l3.2,3.2M597.4,293.2l3.2,-3.2" stroke="#3cb36a" stroke-width="1.0"/>
<path d="M616.7,294.3h6.4l-3.2,5.6z" fill="#ea6418" stroke="#c05a20" stroke-width="0.4"/>
<path d="M618.3,294.6l3.2,3.2M618.3,297.8l3.2,-3.2" stroke="#3cb36a" stroke-width="1.0"/>
<path d="M623.2,295.0h6.4l-3.2,5.6z" fill="#ea6418" stroke="#c05a20" stroke-width="0.4"/>
<path d="M624.8,295.3l3.2,3.2M624.8,298.5l3.2,-3.2" stroke="#3cb36a" stroke-width="1.0"/>
<path d="M654.0,294.3h6.4l-3.2,5.6z" fill="#ea6418" stroke="#c05a20" stroke-width="0.4"/>
<path d="M655.6,294.6l3.2,3.2M655.6,297.8l3.2,-3.2" stroke="#3cb36a" stroke-width="1.0"/>
<path d="M663.9,286.8h6.4l-3.2,5.6z" fill="#ea6418" stroke="#c05a20" stroke-width="0.4"/>
<path d="M665.5,287.1l3.2,3.2M665.5,290.3l3.2,-3.2" stroke="#3cb36a" stroke-width="1.0"/>
<path d="M662.9,291.4h6.4l-3.2,5.6z" fill="#ea6418" stroke="#c05a20" stroke-width="0.4"/>
<path d="M664.5,291.7l3.2,3.2M664.5,294.9l3.2,-3.2" stroke="#3cb36a" stroke-width="1.0"/>
<path d="M670.8,289.4h6.4l-3.2,5.6z" fill="#ea6418" stroke="#c05a20" stroke-width="0.4"/>
<path d="M672.4,289.7l3.2,3.2M672.4,292.9l3.2,-3.2" stroke="#3cb36a" stroke-width="1.0"/>
<path d="M672.1,293.8h6.4l-3.2,5.6z" fill="#ea6418" stroke="#c05a20" stroke-width="0.4"/>
<path d="M673.7,294.1l3.2,3.2M673.7,297.3l3.2,-3.2" stroke="#3cb36a" stroke-width="1.0"/>
<circle cx="35.4" cy="249.4" r="1.7" fill="#7d3fb8"/>
<circle cx="50.2" cy="271.2" r="1.7" fill="#7d3fb8"/>
<circle cx="55.6" cy="296.0" r="1.7" fill="#7d3fb8"/>
<circle cx="61.5" cy="239.4" r="1.7" fill="#7d3fb8"/>
<circle cx="78.9" cy="193.9" r="1.7" fill="#7d3fb8"/>
<circle cx="101.4" cy="241.5" r="1.7" fill="#7d3fb8"/>
<circle cx="100.7" cy="271.7" r="1.7" fill="#7d3fb8"/>
<circle cx="117.8" cy="282.7" r="1.7" fill="#7d3fb8"/>
<circle cx="123.9" cy="255.6" r="1.7" fill="#7d3fb8"/>
<circle cx="130.9" cy="188.1" r="1.7" fill="#7d3fb8"/>
<circle cx="136.2" cy="292.9" r="1.7" fill="#7d3fb8"/>
<circle cx="141.5" cy="202.4" r="1.7" fill="#7d3fb8"/>
<circle cx="162.5" cy="233.6" r="1.7" fill="#7d3fb8"/>
<circle cx="176.4" cy="286.0" r="1.7" fill="#7d3fb8"/>
<circle cx="175.3" cy="232.1" r="1.7" fill="#7d3fb8"/>
<circle cx="187.9" cy="239.5" r="1.7" fill="#7d3fb8"/>
<circle cx="220.2" cy="243.0" r="1.7" fill="#7d3fb8"/>
<circle cx="226.5" cy="206.7" r="1.7" fill="#7d3fb8"/>
<circle cx="287.0" cy="238.7" r="1.7" fill="#7d3fb8"/>
<circle cx="285.4" cy="267.1" r="1.7" fill="#7d3fb8"/>
<circle cx="305.1" cy="266.3" r="1.7" fill="#7d3fb8"/>
<circle cx="307.2" cy="276.5" r="1.7" fill="#7d3fb8"/>
<circle cx="325.3" cy="267.4" r="1.7" fill="#7d3fb8"/>
<circle cx="326.4" cy="286.8" r="1.7" fill="#7d3fb8"/>
<circle cx="369.7" cy="295.5" r="1.7" fill="#7d3fb8"/>
<circle cx="376.8" cy="272.3" r="1.7" fill="#7d3fb8"/>
<circle cx="407.1" cy="263.0" r="1.7" fill="#7d3fb8"/>
<circle cx="425.5" cy="298.3" r="1.7" fill="#7d3fb8"/>
<circle cx="445.2" cy="277.0" r="1.7" fill="#7d3fb8"/>
<circle cx="500.0" cy="220.6" r="1.7" fill="#7d3fb8"/>
<circle cx="506.6" cy="239.4" r="1.7" fill="#7d3fb8"/>
<circle cx="487.4" cy="254.0" r="1.7" fill="#7d3fb8"/>
<circle cx="495.6" cy="270.7" r="1.7" fill="#7d3fb8"/>
<circle cx="508.4" cy="282.7" r="1.7" fill="#7d3fb8"/>
<circle cx="532.2" cy="290.6" r="1.7" fill="#7d3fb8"/>
<circle cx="551.8" cy="280.2" r="1.7" fill="#7d3fb8"/>
<circle cx="569.3" cy="275.3" r="1.7" fill="#7d3fb8"/>
<circle cx="610.8" cy="220.2" r="1.7" fill="#7d3fb8"/>
<circle cx="640.5" cy="242.4" r="1.7" fill="#7d3fb8"/>
<circle cx="652.1" cy="278.6" r="1.7" fill="#7d3fb8"/>
<path d="M255.5,344.0l3.3,3.3M255.5,347.2l3.3,-3.3" stroke="#3cb36a" stroke-width="1.2"/>
<path d="M287.6,344.7l3.3,3.3M287.6,347.9l3.3,-3.3" stroke="#3cb36a" stroke-width="1.2"/>
<path d="M423.8,342.4l3.3,3.3M423.8,345.6l3.3,-3.3" stroke="#3cb36a" stroke-width="1.2"/>
<path d="M623.0,342.4l3.3,3.3M623.0,345.6l3.3,-3.3" stroke="#3cb36a" stroke-width="1.2"/>
<circle cx="35.6" cy="362.4" r="1.7" fill="#7d3fb8"/>
<circle cx="50.0" cy="346.3" r="1.7" fill="#7d3fb8"/>
<circle cx="55.3" cy="346.3" r="1.7" fill="#7d3fb8"/>
<circle cx="61.2" cy="344.4" r="1.7" fill="#7d3fb8"/>
<circle cx="78.5" cy="419.8" r="1.7" fill="#7d3fb8"/>
<circle cx="100.7" cy="349.4" r="1.7" fill="#7d3fb8"/>
<circle cx="101.5" cy="369.5" r="1.7" fill="#7d3fb8"/>
<circle cx="118.0" cy="348.7" r="1.7" fill="#7d3fb8"/>
<circle cx="124.0" cy="353.0" r="1.7" fill="#7d3fb8"/>
<circle cx="130.9" cy="374.3" r="1.7" fill="#7d3fb8"/>
<circle cx="136.1" cy="347.0" r="1.7" fill="#7d3fb8"/>
<circle cx="141.1" cy="383.0" r="1.7" fill="#7d3fb8"/>
<circle cx="162.4" cy="364.6" r="1.7" fill="#7d3fb8"/>
<circle cx="175.5" cy="345.1" r="1.7" fill="#7d3fb8"/>
<circle cx="176.7" cy="346.8" r="1.7" fill="#7d3fb8"/>
<circle cx="187.8" cy="358.2" r="1.7" fill="#7d3fb8"/>
<circle cx="220.3" cy="353.4" r="1.7" fill="#7d3fb8"/>
<circle cx="226.4" cy="370.0" r="1.7" fill="#7d3fb8"/>
<circle cx="285.9" cy="344.4" r="1.7" fill="#7d3fb8"/>
<circle cx="287.1" cy="364.8" r="1.7" fill="#7d3fb8"/>
<circle cx="305.3" cy="353.0" r="1.7" fill="#7d3fb8"/>
<circle cx="307.2" cy="353.0" r="1.7" fill="#7d3fb8"/>
<circle cx="326.1" cy="345.1" r="1.7" fill="#7d3fb8"/>
<circle cx="325.2" cy="365.8" r="1.7" fill="#7d3fb8"/>
<circle cx="370.0" cy="345.6" r="1.7" fill="#7d3fb8"/>
<circle cx="377.1" cy="354.1" r="1.7" fill="#7d3fb8"/>
<circle cx="407.4" cy="351.8" r="1.7" fill="#7d3fb8"/>
<circle cx="425.9" cy="346.3" r="1.7" fill="#7d3fb8"/>
<circle cx="445.5" cy="344.4" r="1.7" fill="#7d3fb8"/>
<circle cx="487.5" cy="364.1" r="1.7" fill="#7d3fb8"/>
<circle cx="495.8" cy="355.1" r="1.7" fill="#7d3fb8"/>
<circle cx="500.0" cy="359.4" r="1.7" fill="#7d3fb8"/>
<circle cx="506.7" cy="346.8" r="1.7" fill="#7d3fb8"/>
<circle cx="508.8" cy="346.3" r="1.7" fill="#7d3fb8"/>
<circle cx="532.3" cy="351.8" r="1.7" fill="#7d3fb8"/>
<circle cx="551.7" cy="346.8" r="1.7" fill="#7d3fb8"/>
<circle cx="569.5" cy="345.1" r="1.7" fill="#7d3fb8"/>
<circle cx="596.9" cy="344.4" r="1.7" fill="#7d3fb8"/>
<circle cx="611.1" cy="345.9" r="1.7" fill="#7d3fb8"/>
<circle cx="610.6" cy="367.7" r="1.7" fill="#7d3fb8"/>
<circle cx="640.7" cy="351.1" r="1.7" fill="#7d3fb8"/>
<circle cx="652.1" cy="352.7" r="1.7" fill="#7d3fb8"/>
<rect x="568.5" y="381.2" width="105.2" height="39.2" fill="#fff" stroke="#444" stroke-width="0.8"/>
<circle cx="577.5" cy="390.3" r="1.6" fill="#7d3fb8"/>
<path d="M576.0,399.6l3.0,3.0M576.0,402.6l3.0,-3.0" stroke="#3cb36a" stroke-width="0.9"/>
<path d="M574.3,409.6h6.4l-3.2,5.6z" fill="#ea6418"/>
<text x="583.8" y="390.3" font-size="8.3" fill="#222" dominant-baseline="central" stroke="#222" stroke-width="0.2">Overlapped Loci</text>
<text x="583.8" y="401.1" font-size="8.3" fill="#222" dominant-baseline="central" stroke="#222" stroke-width="0.2">Independent Loci</text>
<text x="583.8" y="412.2" font-size="8.3" fill="#222" dominant-baseline="central" stroke="#222" stroke-width="0.2">Novel Loci of C-GWAS</text>
</svg></body></html>
